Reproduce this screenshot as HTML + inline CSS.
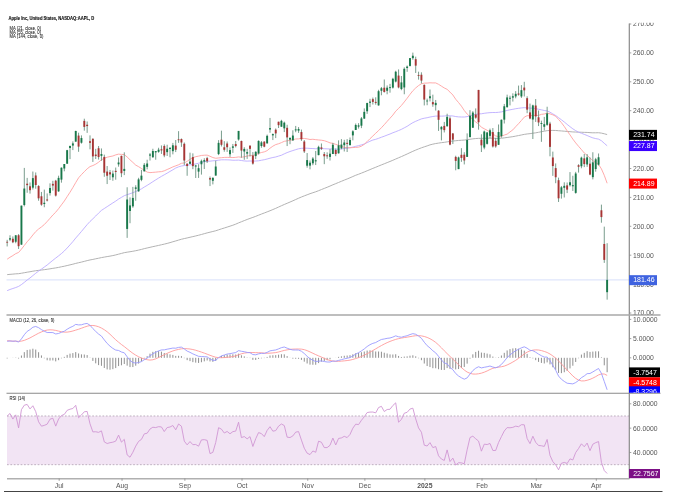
<!DOCTYPE html><html><head><meta charset="utf-8"><style>html,body{margin:0;padding:0;background:#fff}svg{display:block;will-change:transform}text{font-family:"Liberation Sans",sans-serif}</style></head><body>
<svg width="680" height="499" viewBox="0 0 680 499">
<rect width="680" height="499" fill="#fff"/>
<defs><clipPath id="pc"><rect x="6.5" y="20" width="622.5" height="295"/></clipPath><clipPath id="mc"><rect x="6.5" y="315.5" width="622.5" height="77.5"/></clipPath><clipPath id="rc"><rect x="6.5" y="393.5" width="622.5" height="85"/></clipPath></defs>
<rect x="7" y="415.98" width="622" height="48.70" fill="#f2e4f4"/>
<line x1="7" y1="415.98" x2="629" y2="415.98" stroke="#a99aab" stroke-width="0.75" stroke-dasharray="1.7,1.71"/>
<line x1="7" y1="464.68" x2="629" y2="464.68" stroke="#a99aab" stroke-width="0.75" stroke-dasharray="1.7,1.71"/>
<line x1="6.5" y1="279.88" x2="629" y2="279.88" stroke="#dfe6fb" stroke-width="1.2"/>
<polyline clip-path="url(#pc)" points="7.16,274.63 10.01,274.35 12.87,274.12 15.73,273.83 18.59,273.69 21.44,273.24 24.30,272.73 27.16,272.20 30.01,271.74 32.87,271.20 35.73,270.74 38.58,270.36 41.44,270.04 44.30,269.67 47.16,269.29 50.01,268.83 52.87,268.33 55.73,267.92 58.58,267.40 61.44,266.78 64.30,266.22 67.15,265.54 70.01,264.86 72.87,264.20 75.73,263.40 78.58,262.74 81.44,262.09 84.30,261.36 87.15,260.61 90.01,259.95 92.87,259.41 95.72,258.81 98.58,258.23 101.44,257.60 104.30,257.08 107.15,256.60 110.01,256.11 112.87,255.59 115.72,254.93 118.58,254.17 121.44,253.43 124.29,252.66 127.15,252.18 130.01,251.74 132.87,251.26 135.72,250.71 138.58,250.10 141.44,249.42 144.29,248.65 147.15,247.98 150.01,247.32 152.86,246.67 155.72,246.05 158.58,245.41 161.44,244.76 164.29,244.12 167.15,243.42 170.01,242.63 172.86,241.75 175.72,240.96 178.58,240.08 181.43,239.25 184.29,238.58 187.15,237.95 190.01,237.26 192.86,236.62 195.72,235.94 198.58,235.24 201.43,234.47 204.29,233.68 207.15,232.88 210.00,232.18 212.86,231.49 215.72,230.76 218.58,229.83 221.43,228.89 224.29,228.01 227.15,227.08 230.00,226.17 232.86,225.21 235.72,224.15 238.57,222.89 241.43,221.74 244.29,220.58 247.15,219.48 250.00,218.40 252.86,217.42 255.72,216.33 258.57,215.19 261.43,214.06 264.29,212.98 267.14,211.87 270.00,210.76 272.86,209.55 275.72,208.35 278.57,207.06 281.43,205.72 284.29,204.47 287.14,203.28 290.00,202.06 292.86,200.81 295.71,199.53 298.57,198.22 301.43,197.01 304.29,195.86 307.14,194.79 310.00,193.70 312.86,192.73 315.71,191.80 318.57,190.70 321.43,189.55 324.28,188.42 327.14,187.27 330.00,186.06 332.86,184.81 335.71,183.65 338.57,182.46 341.43,181.29 344.28,180.09 347.14,178.99 350.00,177.79 352.85,176.52 355.71,175.27 358.57,174.24 361.43,173.12 364.28,171.97 367.14,170.77 370.00,169.60 372.85,168.39 375.71,167.26 378.57,166.07 381.42,164.90 384.28,163.77 387.14,162.60 390.00,161.46 392.85,160.28 395.71,159.02 398.57,157.79 401.42,156.59 404.28,155.30 407.14,153.99 409.99,152.65 412.85,151.31 415.71,150.08 418.57,148.92 421.42,147.82 424.28,146.83 427.14,145.90 429.99,144.86 432.85,144.15 435.71,143.56 438.56,143.10 441.42,142.66 444.28,142.33 447.14,141.86 449.99,141.48 452.85,141.03 455.71,140.74 458.56,140.45 461.42,140.24 464.28,140.06 467.13,139.68 469.99,139.24 472.85,138.86 475.71,138.54 478.56,138.35 481.42,138.34 484.28,138.26 487.13,138.27 489.99,138.16 492.85,138.21 495.70,138.35 498.56,138.39 501.42,138.23 504.28,137.89 507.13,137.48 509.99,137.07 512.85,136.67 515.70,136.12 518.56,135.56 521.42,134.97 524.27,134.39 527.13,133.96 529.99,133.66 532.85,133.19 535.70,132.82 538.56,132.29 541.42,131.71 544.27,131.20 547.13,130.68 549.99,130.46 552.84,130.39 555.70,130.48 558.56,130.72 561.41,130.95 564.27,131.19 567.13,131.45 569.99,131.68 572.84,131.93 575.70,132.05 578.56,132.17 581.41,132.24 584.27,132.37 587.13,132.43 589.99,132.66 592.84,132.80 595.70,132.79 598.56,132.73 601.41,133.12 604.27,133.77 607.13,134.56" fill="none" stroke="#b3b3b3" stroke-width="1.0" stroke-linejoin="round"/>
<polyline clip-path="url(#pc)" points="7.16,290.65 10.01,289.48 12.87,288.51 15.73,287.56 18.59,286.41 21.44,284.58 24.30,282.36 27.16,280.02 30.01,277.96 32.87,275.59 35.73,273.26 38.58,271.12 41.44,269.13 44.30,267.06 47.16,264.99 50.01,262.64 52.87,260.30 55.73,258.05 58.58,255.86 61.44,253.56 64.30,250.99 67.15,248.00 70.01,244.86 72.87,241.62 75.73,238.05 78.58,234.80 81.44,231.46 84.30,228.02 87.15,224.61 90.01,221.48 92.87,218.82 95.72,215.98 98.58,213.11 101.44,210.38 104.30,208.53 107.15,206.65 110.01,204.78 112.87,202.92 115.72,201.12 118.58,199.07 121.44,197.38 124.29,195.68 127.15,194.65 130.01,193.74 132.87,192.69 135.72,191.52 138.58,190.26 141.44,188.86 144.29,187.06 147.15,185.39 150.01,183.56 152.86,181.68 155.72,179.87 158.58,178.07 161.44,176.37 164.29,174.78 167.15,173.15 170.01,171.43 172.86,169.80 175.72,168.04 178.58,166.85 181.43,166.02 184.29,165.57 187.15,165.13 190.01,164.83 192.86,164.49 195.72,163.90 198.58,163.23 201.43,162.47 204.29,161.75 207.15,161.26 210.00,161.15 212.86,160.82 215.72,160.62 218.58,160.16 221.43,159.82 224.29,159.81 227.15,159.83 230.00,159.95 232.86,160.24 235.72,160.23 238.57,160.10 241.43,160.53 244.29,160.95 247.15,161.12 250.00,160.98 252.86,161.12 255.72,161.03 258.57,160.79 261.43,160.24 264.29,159.71 267.14,159.01 270.00,158.19 272.86,157.50 275.72,156.98 278.57,156.10 281.43,155.23 284.29,153.83 287.14,152.59 290.00,151.50 292.86,150.55 295.71,149.65 298.57,148.80 301.43,148.34 304.29,148.12 307.14,148.21 310.00,148.43 312.86,148.55 315.71,148.75 318.57,148.70 321.43,148.57 324.28,148.71 327.14,148.86 330.00,149.01 332.86,148.92 335.71,149.17 338.57,149.23 341.43,148.94 344.28,148.51 347.14,148.19 350.00,147.71 352.85,147.08 355.71,146.30 358.57,145.65 361.43,144.89 364.28,143.99 367.14,142.61 370.00,141.23 372.85,140.05 375.71,139.32 378.57,138.34 381.42,137.22 384.28,136.22 387.14,135.09 390.00,134.00 392.85,132.78 395.71,131.71 398.57,130.56 401.42,129.35 404.28,127.83 407.14,126.34 409.99,124.42 412.85,122.67 415.71,121.30 418.57,120.09 421.42,118.89 424.28,118.23 427.14,117.73 429.99,117.03 432.85,116.50 435.71,116.10 438.56,116.08 441.42,116.16 444.28,116.02 447.14,115.64 449.99,115.80 452.85,115.98 455.71,116.56 458.56,116.89 461.42,117.01 464.28,117.02 467.13,116.61 469.99,115.83 472.85,114.95 475.71,114.42 478.56,113.95 481.42,113.75 484.28,113.30 487.13,112.91 489.99,112.65 492.85,112.51 495.70,112.53 498.56,112.30 501.42,111.89 504.28,111.21 507.13,110.43 509.99,109.82 512.85,109.31 515.70,108.73 518.56,108.30 521.42,107.91 524.27,107.68 527.13,107.82 529.99,108.12 532.85,108.17 535.70,108.63 538.56,109.25 541.42,109.82 544.27,110.48 547.13,110.95 549.99,112.19 552.84,113.91 555.70,115.54 558.56,117.65 561.41,119.80 564.27,121.97 567.13,124.36 569.99,126.66 572.84,128.84 575.70,130.63 578.56,132.19 581.41,133.24 584.27,134.39 587.13,135.50 589.99,136.78 592.84,137.86 595.70,138.58 598.56,139.13 601.41,140.71 604.27,143.31 607.13,145.77" fill="none" stroke="#b8a8ff" stroke-width="0.85" stroke-linejoin="round"/>
<polyline clip-path="url(#pc)" points="7.16,259.20 10.01,257.25 12.87,255.59 15.73,253.64 18.59,252.46 21.44,249.14 24.30,245.46 27.16,241.77 30.01,238.63 32.87,234.94 35.73,231.58 38.58,229.02 41.44,226.93 44.30,224.56 47.16,221.51 50.01,218.30 52.87,214.99 55.73,212.19 58.58,208.68 61.44,204.83 64.30,201.04 67.15,196.64 70.01,192.24 72.87,187.54 75.73,182.57 78.58,177.83 81.44,174.61 84.30,171.67 87.15,168.84 90.01,166.59 92.87,165.55 95.72,164.17 98.58,162.21 101.44,159.80 104.30,158.37 107.15,157.21 110.01,156.56 112.87,155.99 115.72,154.86 118.58,154.13 121.44,154.39 124.29,154.63 127.15,156.97 130.01,159.81 132.87,162.40 135.72,165.11 138.58,166.67 141.44,168.46 144.29,170.27 147.15,172.07 150.01,172.64 152.86,172.38 155.72,172.17 158.58,171.82 161.44,171.63 164.29,170.80 167.15,169.51 170.01,168.25 172.86,166.90 175.72,165.84 178.58,164.78 181.43,163.31 184.29,162.91 187.15,161.32 190.01,159.24 192.86,157.72 195.72,156.68 198.58,156.14 201.43,155.44 204.29,155.23 207.15,155.12 210.00,156.28 212.86,157.55 215.72,158.27 218.58,157.94 221.43,157.70 224.29,157.43 227.15,157.36 230.00,157.47 232.86,157.54 235.72,157.36 238.57,156.92 241.43,157.30 244.29,156.75 247.15,156.09 250.00,155.48 252.86,155.36 255.72,154.69 258.57,153.39 261.43,152.51 264.29,151.86 267.14,150.65 270.00,148.23 272.86,146.17 275.72,144.59 278.57,143.75 281.43,142.61 284.29,141.32 287.14,140.85 290.00,140.27 292.86,139.74 295.71,138.97 298.57,138.87 301.43,138.34 304.29,138.46 307.14,138.84 310.00,139.50 312.86,139.25 315.71,139.67 318.57,139.96 321.43,140.24 324.28,140.70 327.14,141.67 330.00,142.88 332.86,143.37 335.71,144.35 338.57,145.31 341.43,146.44 344.28,147.38 347.14,147.69 350.00,147.79 352.85,147.59 355.71,147.36 358.57,147.18 361.43,146.19 364.28,144.31 367.14,141.59 370.00,138.70 372.85,136.00 375.71,133.24 378.57,130.58 381.42,127.72 384.28,124.66 387.14,121.39 390.00,118.22 392.85,115.08 395.71,111.16 398.57,108.41 401.42,105.45 404.28,101.94 407.14,98.26 409.99,94.36 412.85,90.76 415.71,87.94 418.57,85.56 421.42,83.76 424.28,83.17 427.14,83.07 429.99,82.80 432.85,82.91 435.71,82.93 438.56,84.30 441.42,86.14 444.28,87.95 447.14,89.34 449.99,92.08 452.85,94.97 455.71,99.22 458.56,102.55 461.42,106.15 464.28,110.51 467.13,114.01 469.99,116.75 472.85,119.46 475.71,121.94 478.56,124.16 481.42,127.25 484.28,128.77 487.13,130.27 489.99,131.89 492.85,133.90 495.70,135.97 498.56,136.55 501.42,136.21 504.28,135.07 507.13,134.15 509.99,131.92 512.85,129.87 515.70,126.68 518.56,123.69 521.42,120.46 524.27,117.12 527.13,115.68 529.99,115.81 532.85,115.47 535.70,115.41 538.56,115.42 541.42,114.35 544.27,114.01 547.13,113.10 549.99,113.89 552.84,114.82 555.70,116.29 558.56,119.45 561.41,122.66 564.27,126.45 567.13,130.84 569.99,134.87 572.84,139.10 575.70,142.89 578.56,146.31 581.41,149.52 584.27,153.03 587.13,155.31 589.99,157.98 592.84,160.69 595.70,162.73 598.56,164.39 601.41,168.87 604.27,175.33 607.13,183.26" fill="none" stroke="#ffa2a2" stroke-width="0.9" stroke-linejoin="round"/>
<line x1="7.16" y1="239.83" x2="7.16" y2="246.44" stroke="#6a9280" stroke-width="0.9"/>
<rect x="6.21" y="241.79" width="1.9" height="0.84" fill="#a83434"/>
<line x1="10.01" y1="235.26" x2="10.01" y2="241.13" stroke="#6a9280" stroke-width="0.9"/>
<rect x="9.06" y="238.24" width="1.9" height="1.36" fill="#18784a"/>
<line x1="12.87" y1="236.42" x2="12.87" y2="243.15" stroke="#6a9280" stroke-width="0.9"/>
<rect x="11.92" y="238.76" width="1.9" height="3.50" fill="#a83434"/>
<line x1="15.73" y1="235.14" x2="15.73" y2="243.24" stroke="#6a9280" stroke-width="0.9"/>
<rect x="14.78" y="235.29" width="1.9" height="6.47" fill="#18784a"/>
<line x1="18.59" y1="234.10" x2="18.59" y2="248.99" stroke="#6a9280" stroke-width="0.9"/>
<rect x="17.64" y="235.26" width="1.9" height="10.92" fill="#a83434"/>
<line x1="21.44" y1="205.61" x2="21.44" y2="244.71" stroke="#6a9280" stroke-width="0.9"/>
<rect x="20.49" y="205.64" width="1.9" height="39.02" fill="#18784a"/>
<line x1="24.30" y1="167.92" x2="24.30" y2="206.36" stroke="#6a9280" stroke-width="0.9"/>
<rect x="23.35" y="188.53" width="1.9" height="16.47" fill="#18784a"/>
<line x1="27.16" y1="177.89" x2="27.16" y2="192.78" stroke="#6a9280" stroke-width="0.9"/>
<rect x="26.21" y="183.70" width="1.9" height="1.44" fill="#a83434"/>
<line x1="30.01" y1="182.46" x2="30.01" y2="193.64" stroke="#6a9280" stroke-width="0.9"/>
<rect x="29.06" y="186.27" width="1.9" height="3.93" fill="#a83434"/>
<line x1="32.87" y1="171.53" x2="32.87" y2="189.54" stroke="#6a9280" stroke-width="0.9"/>
<rect x="31.92" y="178.12" width="1.9" height="9.54" fill="#18784a"/>
<line x1="35.73" y1="172.46" x2="35.73" y2="188.73" stroke="#6a9280" stroke-width="0.9"/>
<rect x="34.78" y="175.46" width="1.9" height="9.54" fill="#a83434"/>
<line x1="38.58" y1="185.15" x2="38.58" y2="200.72" stroke="#6a9280" stroke-width="0.9"/>
<rect x="37.63" y="186.04" width="1.9" height="12.28" fill="#a83434"/>
<line x1="41.44" y1="191.94" x2="41.44" y2="205.75" stroke="#6a9280" stroke-width="0.9"/>
<rect x="40.49" y="196.27" width="1.9" height="8.38" fill="#a83434"/>
<line x1="44.30" y1="189.60" x2="44.30" y2="207.25" stroke="#6a9280" stroke-width="0.9"/>
<rect x="43.35" y="202.78" width="1.9" height="1.21" fill="#18784a"/>
<line x1="47.16" y1="193.41" x2="47.16" y2="201.42" stroke="#6a9280" stroke-width="0.9"/>
<rect x="46.20" y="199.46" width="1.9" height="1.03" fill="#a83434"/>
<line x1="50.01" y1="183.35" x2="50.01" y2="195.55" stroke="#6a9280" stroke-width="0.9"/>
<rect x="49.06" y="188.01" width="1.9" height="5.06" fill="#18784a"/>
<line x1="52.87" y1="180.81" x2="52.87" y2="190.61" stroke="#6a9280" stroke-width="0.9"/>
<rect x="51.92" y="183.85" width="1.9" height="1.71" fill="#a83434"/>
<line x1="55.73" y1="179.86" x2="55.73" y2="196.53" stroke="#6a9280" stroke-width="0.9"/>
<rect x="54.78" y="180.72" width="1.9" height="14.88" fill="#a83434"/>
<line x1="58.58" y1="175.70" x2="58.58" y2="191.85" stroke="#6a9280" stroke-width="0.9"/>
<rect x="57.63" y="177.89" width="1.9" height="13.47" fill="#18784a"/>
<line x1="61.44" y1="167.40" x2="61.44" y2="182.66" stroke="#6a9280" stroke-width="0.9"/>
<rect x="60.49" y="167.72" width="1.9" height="11.91" fill="#18784a"/>
<line x1="64.30" y1="164.02" x2="64.30" y2="171.30" stroke="#6a9280" stroke-width="0.9"/>
<rect x="63.35" y="164.02" width="1.9" height="4.48" fill="#18784a"/>
<line x1="67.15" y1="149.86" x2="67.15" y2="163.73" stroke="#6a9280" stroke-width="0.9"/>
<rect x="66.20" y="150.18" width="1.9" height="13.55" fill="#18784a"/>
<line x1="70.01" y1="145.81" x2="70.01" y2="159.11" stroke="#6a9280" stroke-width="0.9"/>
<rect x="69.06" y="145.90" width="1.9" height="2.11" fill="#18784a"/>
<line x1="72.87" y1="141.33" x2="72.87" y2="150.09" stroke="#6a9280" stroke-width="0.9"/>
<rect x="71.92" y="143.41" width="1.9" height="2.17" fill="#18784a"/>
<line x1="75.73" y1="130.70" x2="75.73" y2="141.77" stroke="#6a9280" stroke-width="0.9"/>
<rect x="74.78" y="130.99" width="1.9" height="10.64" fill="#18784a"/>
<line x1="78.58" y1="132.69" x2="78.58" y2="151.82" stroke="#6a9280" stroke-width="0.9"/>
<rect x="77.63" y="135.58" width="1.9" height="11.04" fill="#a83434"/>
<line x1="81.44" y1="135.38" x2="81.44" y2="143.65" stroke="#6a9280" stroke-width="0.9"/>
<rect x="80.49" y="138.04" width="1.9" height="4.68" fill="#18784a"/>
<line x1="84.30" y1="118.71" x2="84.30" y2="130.67" stroke="#6a9280" stroke-width="0.9"/>
<rect x="83.35" y="120.87" width="1.9" height="6.01" fill="#a83434"/>
<line x1="87.15" y1="121.48" x2="87.15" y2="132.87" stroke="#6a9280" stroke-width="0.9"/>
<rect x="86.20" y="124.75" width="1.9" height="1.32" fill="#a83434"/>
<line x1="90.01" y1="135.38" x2="90.01" y2="149.31" stroke="#6a9280" stroke-width="0.9"/>
<rect x="89.06" y="141.19" width="1.9" height="1.65" fill="#a83434"/>
<line x1="92.87" y1="138.33" x2="92.87" y2="161.94" stroke="#6a9280" stroke-width="0.9"/>
<rect x="91.92" y="138.79" width="1.9" height="17.63" fill="#a83434"/>
<line x1="95.72" y1="148.85" x2="95.72" y2="159.02" stroke="#6a9280" stroke-width="0.9"/>
<rect x="94.77" y="154.57" width="1.9" height="1.47" fill="#a83434"/>
<line x1="98.58" y1="146.02" x2="98.58" y2="159.57" stroke="#6a9280" stroke-width="0.9"/>
<rect x="97.63" y="148.24" width="1.9" height="8.81" fill="#a83434"/>
<line x1="101.44" y1="148.44" x2="101.44" y2="160.75" stroke="#6a9280" stroke-width="0.9"/>
<rect x="100.49" y="154.02" width="1.9" height="1.85" fill="#18784a"/>
<line x1="104.30" y1="154.63" x2="104.30" y2="176.79" stroke="#6a9280" stroke-width="0.9"/>
<rect x="103.34" y="156.94" width="1.9" height="15.78" fill="#a83434"/>
<line x1="107.15" y1="166.04" x2="107.15" y2="184.05" stroke="#6a9280" stroke-width="0.9"/>
<rect x="106.20" y="171.59" width="1.9" height="4.16" fill="#a83434"/>
<line x1="110.01" y1="169.97" x2="110.01" y2="180.03" stroke="#6a9280" stroke-width="0.9"/>
<rect x="109.06" y="172.26" width="1.9" height="2.14" fill="#a83434"/>
<line x1="112.87" y1="170.52" x2="112.87" y2="180.78" stroke="#6a9280" stroke-width="0.9"/>
<rect x="111.92" y="173.59" width="1.9" height="3.70" fill="#18784a"/>
<line x1="115.72" y1="167.55" x2="115.72" y2="179.71" stroke="#6a9280" stroke-width="0.9"/>
<rect x="114.77" y="170.84" width="1.9" height="1.13" fill="#a83434"/>
<line x1="118.58" y1="157.46" x2="118.58" y2="166.68" stroke="#6a9280" stroke-width="0.9"/>
<rect x="117.63" y="162.49" width="1.9" height="1.85" fill="#18784a"/>
<line x1="121.44" y1="155.55" x2="121.44" y2="177.11" stroke="#6a9280" stroke-width="0.9"/>
<rect x="120.49" y="155.87" width="1.9" height="17.37" fill="#a83434"/>
<line x1="124.29" y1="152.32" x2="124.29" y2="175.12" stroke="#6a9280" stroke-width="0.9"/>
<rect x="123.34" y="168.90" width="1.9" height="2.05" fill="#18784a"/>
<line x1="127.15" y1="187.28" x2="127.15" y2="237.86" stroke="#6a9280" stroke-width="0.9"/>
<rect x="126.20" y="199.51" width="1.9" height="29.42" fill="#18784a"/>
<line x1="130.01" y1="197.43" x2="130.01" y2="223.21" stroke="#6a9280" stroke-width="0.9"/>
<rect x="129.06" y="205.41" width="1.9" height="5.58" fill="#18784a"/>
<line x1="132.87" y1="186.88" x2="132.87" y2="207.83" stroke="#6a9280" stroke-width="0.9"/>
<rect x="131.92" y="197.92" width="1.9" height="8.44" fill="#18784a"/>
<line x1="135.72" y1="185.26" x2="135.72" y2="200.78" stroke="#6a9280" stroke-width="0.9"/>
<rect x="134.77" y="187.43" width="1.9" height="1.38" fill="#18784a"/>
<line x1="138.58" y1="177.81" x2="138.58" y2="191.71" stroke="#6a9280" stroke-width="0.9"/>
<rect x="137.63" y="179.37" width="1.9" height="11.96" fill="#18784a"/>
<line x1="141.44" y1="169.92" x2="141.44" y2="181.22" stroke="#6a9280" stroke-width="0.9"/>
<rect x="140.49" y="175.64" width="1.9" height="4.22" fill="#18784a"/>
<line x1="144.29" y1="163.04" x2="144.29" y2="171.36" stroke="#6a9280" stroke-width="0.9"/>
<rect x="143.34" y="164.83" width="1.9" height="6.53" fill="#18784a"/>
<line x1="147.15" y1="159.74" x2="147.15" y2="169.37" stroke="#6a9280" stroke-width="0.9"/>
<rect x="146.20" y="163.53" width="1.9" height="3.32" fill="#18784a"/>
<line x1="150.01" y1="153.04" x2="150.01" y2="160.52" stroke="#6a9280" stroke-width="0.9"/>
<rect x="149.06" y="154.46" width="1.9" height="1.15" fill="#18784a"/>
<line x1="152.86" y1="148.76" x2="152.86" y2="157.95" stroke="#6a9280" stroke-width="0.9"/>
<rect x="151.91" y="151.02" width="1.9" height="6.16" fill="#18784a"/>
<line x1="155.72" y1="151.19" x2="155.72" y2="159.71" stroke="#6a9280" stroke-width="0.9"/>
<rect x="154.77" y="151.08" width="1.9" height="1.29" fill="#18784a"/>
<line x1="158.58" y1="147.78" x2="158.58" y2="152.75" stroke="#6a9280" stroke-width="0.9"/>
<rect x="157.63" y="149.69" width="1.9" height="2.14" fill="#18784a"/>
<line x1="161.44" y1="145.44" x2="161.44" y2="153.91" stroke="#6a9280" stroke-width="0.9"/>
<rect x="160.49" y="149.26" width="1.9" height="1.15" fill="#a83434"/>
<line x1="164.29" y1="144.40" x2="164.29" y2="157.23" stroke="#6a9280" stroke-width="0.9"/>
<rect x="163.34" y="145.99" width="1.9" height="9.42" fill="#a83434"/>
<line x1="167.15" y1="144.74" x2="167.15" y2="155.99" stroke="#6a9280" stroke-width="0.9"/>
<rect x="166.20" y="148.73" width="1.9" height="3.41" fill="#18784a"/>
<line x1="170.01" y1="147.46" x2="170.01" y2="157.26" stroke="#6a9280" stroke-width="0.9"/>
<rect x="169.06" y="147.75" width="1.9" height="1.21" fill="#18784a"/>
<line x1="172.86" y1="142.92" x2="172.86" y2="154.37" stroke="#6a9280" stroke-width="0.9"/>
<rect x="171.91" y="145.29" width="1.9" height="5.87" fill="#18784a"/>
<line x1="175.72" y1="140.00" x2="175.72" y2="152.08" stroke="#6a9280" stroke-width="0.9"/>
<rect x="174.77" y="145.61" width="1.9" height="4.13" fill="#a83434"/>
<line x1="178.58" y1="131.16" x2="178.58" y2="142.84" stroke="#6a9280" stroke-width="0.9"/>
<rect x="177.63" y="139.31" width="1.9" height="0.90" fill="#a83434"/>
<line x1="181.43" y1="138.44" x2="181.43" y2="146.88" stroke="#6a9280" stroke-width="0.9"/>
<rect x="180.48" y="139.05" width="1.9" height="3.44" fill="#a83434"/>
<line x1="184.29" y1="142.49" x2="184.29" y2="165.12" stroke="#6a9280" stroke-width="0.9"/>
<rect x="183.34" y="143.79" width="1.9" height="16.70" fill="#a83434"/>
<line x1="187.15" y1="163.36" x2="187.15" y2="175.78" stroke="#6a9280" stroke-width="0.9"/>
<rect x="186.20" y="163.70" width="1.9" height="2.34" fill="#a83434"/>
<line x1="190.01" y1="152.66" x2="190.01" y2="164.11" stroke="#6a9280" stroke-width="0.9"/>
<rect x="189.06" y="161.62" width="1.9" height="2.17" fill="#18784a"/>
<line x1="192.86" y1="153.36" x2="192.86" y2="169.16" stroke="#6a9280" stroke-width="0.9"/>
<rect x="191.91" y="157.08" width="1.9" height="9.05" fill="#a83434"/>
<line x1="195.72" y1="164.83" x2="195.72" y2="178.01" stroke="#6a9280" stroke-width="0.9"/>
<rect x="194.77" y="165.47" width="1.9" height="1.06" fill="#18784a"/>
<line x1="198.58" y1="164.22" x2="198.58" y2="177.95" stroke="#6a9280" stroke-width="0.9"/>
<rect x="197.63" y="168.18" width="1.9" height="3.44" fill="#18784a"/>
<line x1="201.43" y1="159.57" x2="201.43" y2="174.60" stroke="#6a9280" stroke-width="0.9"/>
<rect x="200.48" y="160.81" width="1.9" height="3.47" fill="#18784a"/>
<line x1="204.29" y1="158.24" x2="204.29" y2="169.02" stroke="#6a9280" stroke-width="0.9"/>
<rect x="203.34" y="160.09" width="1.9" height="1.58" fill="#18784a"/>
<line x1="207.15" y1="156.82" x2="207.15" y2="162.98" stroke="#6a9280" stroke-width="0.9"/>
<rect x="206.20" y="158.15" width="1.9" height="3.12" fill="#a83434"/>
<line x1="210.00" y1="176.53" x2="210.00" y2="186.07" stroke="#6a9280" stroke-width="0.9"/>
<rect x="209.05" y="178.10" width="1.9" height="1.44" fill="#a83434"/>
<line x1="212.86" y1="177.46" x2="212.86" y2="184.40" stroke="#6a9280" stroke-width="0.9"/>
<rect x="211.91" y="177.78" width="1.9" height="3.01" fill="#18784a"/>
<line x1="215.72" y1="160.67" x2="215.72" y2="175.61" stroke="#6a9280" stroke-width="0.9"/>
<rect x="214.77" y="166.51" width="1.9" height="9.07" fill="#18784a"/>
<line x1="218.58" y1="140.12" x2="218.58" y2="155.12" stroke="#6a9280" stroke-width="0.9"/>
<rect x="217.63" y="142.87" width="1.9" height="11.21" fill="#18784a"/>
<line x1="221.43" y1="130.67" x2="221.43" y2="146.48" stroke="#6a9280" stroke-width="0.9"/>
<rect x="220.48" y="139.69" width="1.9" height="5.12" fill="#a83434"/>
<line x1="224.29" y1="141.19" x2="224.29" y2="151.71" stroke="#6a9280" stroke-width="0.9"/>
<rect x="223.34" y="147.29" width="1.9" height="2.51" fill="#a83434"/>
<line x1="227.15" y1="141.48" x2="227.15" y2="151.94" stroke="#6a9280" stroke-width="0.9"/>
<rect x="226.20" y="143.50" width="1.9" height="3.70" fill="#a83434"/>
<line x1="230.00" y1="147.43" x2="230.00" y2="156.88" stroke="#6a9280" stroke-width="0.9"/>
<rect x="229.05" y="150.09" width="1.9" height="4.16" fill="#18784a"/>
<line x1="232.86" y1="143.94" x2="232.86" y2="152.87" stroke="#6a9280" stroke-width="0.9"/>
<rect x="231.91" y="146.37" width="1.9" height="1.44" fill="#18784a"/>
<line x1="235.72" y1="140.99" x2="235.72" y2="147.40" stroke="#6a9280" stroke-width="0.9"/>
<rect x="234.77" y="144.05" width="1.9" height="1.94" fill="#a83434"/>
<line x1="238.57" y1="130.93" x2="238.57" y2="140.61" stroke="#6a9280" stroke-width="0.9"/>
<rect x="237.62" y="130.93" width="1.9" height="8.55" fill="#18784a"/>
<line x1="241.43" y1="140.61" x2="241.43" y2="157.69" stroke="#6a9280" stroke-width="0.9"/>
<rect x="240.48" y="140.99" width="1.9" height="9.57" fill="#a83434"/>
<line x1="244.29" y1="147.20" x2="244.29" y2="159.77" stroke="#6a9280" stroke-width="0.9"/>
<rect x="243.34" y="148.91" width="1.9" height="2.57" fill="#18784a"/>
<line x1="247.15" y1="148.82" x2="247.15" y2="158.91" stroke="#6a9280" stroke-width="0.9"/>
<rect x="246.20" y="152.11" width="1.9" height="1.53" fill="#18784a"/>
<line x1="250.00" y1="145.38" x2="250.00" y2="156.56" stroke="#6a9280" stroke-width="0.9"/>
<rect x="249.05" y="145.67" width="1.9" height="3.18" fill="#a83434"/>
<line x1="252.86" y1="152.06" x2="252.86" y2="164.66" stroke="#6a9280" stroke-width="0.9"/>
<rect x="251.91" y="155.50" width="1.9" height="8.12" fill="#a83434"/>
<line x1="255.72" y1="151.22" x2="255.72" y2="159.11" stroke="#6a9280" stroke-width="0.9"/>
<rect x="254.77" y="151.82" width="1.9" height="4.25" fill="#18784a"/>
<line x1="258.57" y1="140.32" x2="258.57" y2="154.54" stroke="#6a9280" stroke-width="0.9"/>
<rect x="257.62" y="140.93" width="1.9" height="12.46" fill="#18784a"/>
<line x1="261.43" y1="141.05" x2="261.43" y2="147.78" stroke="#6a9280" stroke-width="0.9"/>
<rect x="260.48" y="142.37" width="1.9" height="3.64" fill="#18784a"/>
<line x1="264.29" y1="141.31" x2="264.29" y2="147.29" stroke="#6a9280" stroke-width="0.9"/>
<rect x="263.34" y="141.62" width="1.9" height="5.06" fill="#a83434"/>
<line x1="267.14" y1="134.60" x2="267.14" y2="143.65" stroke="#6a9280" stroke-width="0.9"/>
<rect x="266.19" y="135.84" width="1.9" height="7.51" fill="#18784a"/>
<line x1="270.00" y1="117.95" x2="270.00" y2="132.75" stroke="#6a9280" stroke-width="0.9"/>
<rect x="269.05" y="128.07" width="1.9" height="1.49" fill="#18784a"/>
<line x1="272.86" y1="133.47" x2="272.86" y2="140.06" stroke="#6a9280" stroke-width="0.9"/>
<rect x="271.91" y="134.06" width="1.9" height="1.32" fill="#18784a"/>
<line x1="275.72" y1="128.47" x2="275.72" y2="138.10" stroke="#6a9280" stroke-width="0.9"/>
<rect x="274.77" y="129.69" width="1.9" height="3.70" fill="#a83434"/>
<line x1="278.57" y1="121.74" x2="278.57" y2="128.01" stroke="#6a9280" stroke-width="0.9"/>
<rect x="277.62" y="121.74" width="1.9" height="3.41" fill="#a83434"/>
<line x1="281.43" y1="119.80" x2="281.43" y2="126.74" stroke="#6a9280" stroke-width="0.9"/>
<rect x="280.48" y="120.87" width="1.9" height="5.87" fill="#18784a"/>
<line x1="284.29" y1="121.62" x2="284.29" y2="132.09" stroke="#6a9280" stroke-width="0.9"/>
<rect x="283.34" y="122.66" width="1.9" height="5.69" fill="#18784a"/>
<line x1="287.14" y1="124.75" x2="287.14" y2="146.07" stroke="#6a9280" stroke-width="0.9"/>
<rect x="286.19" y="127.81" width="1.9" height="9.59" fill="#a83434"/>
<line x1="290.00" y1="137.23" x2="290.00" y2="144.20" stroke="#6a9280" stroke-width="0.9"/>
<rect x="289.05" y="137.95" width="1.9" height="1.71" fill="#18784a"/>
<line x1="292.86" y1="130.29" x2="292.86" y2="140.84" stroke="#6a9280" stroke-width="0.9"/>
<rect x="291.91" y="135.53" width="1.9" height="4.83" fill="#18784a"/>
<line x1="295.71" y1="125.93" x2="295.71" y2="132.23" stroke="#6a9280" stroke-width="0.9"/>
<rect x="294.76" y="129.37" width="1.9" height="1.03" fill="#18784a"/>
<line x1="298.57" y1="127.09" x2="298.57" y2="132.90" stroke="#6a9280" stroke-width="0.9"/>
<rect x="297.62" y="128.99" width="1.9" height="1.65" fill="#18784a"/>
<line x1="301.43" y1="129.57" x2="301.43" y2="140.90" stroke="#6a9280" stroke-width="0.9"/>
<rect x="300.48" y="132.06" width="1.9" height="7.25" fill="#a83434"/>
<line x1="304.29" y1="140.09" x2="304.29" y2="152.98" stroke="#6a9280" stroke-width="0.9"/>
<rect x="303.34" y="141.51" width="1.9" height="9.91" fill="#a83434"/>
<line x1="307.14" y1="153.04" x2="307.14" y2="167.72" stroke="#6a9280" stroke-width="0.9"/>
<rect x="306.19" y="160.09" width="1.9" height="5.61" fill="#18784a"/>
<line x1="310.00" y1="160.44" x2="310.00" y2="169.34" stroke="#6a9280" stroke-width="0.9"/>
<rect x="309.05" y="162.69" width="1.9" height="2.95" fill="#18784a"/>
<line x1="312.86" y1="157.08" x2="312.86" y2="165.21" stroke="#6a9280" stroke-width="0.9"/>
<rect x="311.91" y="158.53" width="1.9" height="4.77" fill="#18784a"/>
<line x1="315.71" y1="150.96" x2="315.71" y2="165.06" stroke="#6a9280" stroke-width="0.9"/>
<rect x="314.76" y="160.24" width="1.9" height="1.12" fill="#18784a"/>
<line x1="318.57" y1="145.73" x2="318.57" y2="155.29" stroke="#6a9280" stroke-width="0.9"/>
<rect x="317.62" y="146.88" width="1.9" height="8.24" fill="#18784a"/>
<line x1="321.43" y1="143.47" x2="321.43" y2="149.98" stroke="#6a9280" stroke-width="0.9"/>
<rect x="320.48" y="147.38" width="1.9" height="1.41" fill="#a83434"/>
<line x1="324.28" y1="152.03" x2="324.28" y2="164.16" stroke="#6a9280" stroke-width="0.9"/>
<rect x="323.33" y="154.05" width="1.9" height="2.23" fill="#a83434"/>
<line x1="327.14" y1="152.34" x2="327.14" y2="158.79" stroke="#6a9280" stroke-width="0.9"/>
<rect x="326.19" y="155.35" width="1.9" height="0.92" fill="#a83434"/>
<line x1="330.00" y1="149.28" x2="330.00" y2="160.52" stroke="#6a9280" stroke-width="0.9"/>
<rect x="329.05" y="153.70" width="1.9" height="3.21" fill="#18784a"/>
<line x1="332.86" y1="142.87" x2="332.86" y2="154.05" stroke="#6a9280" stroke-width="0.9"/>
<rect x="331.91" y="144.74" width="1.9" height="9.25" fill="#18784a"/>
<line x1="335.71" y1="148.50" x2="335.71" y2="156.16" stroke="#6a9280" stroke-width="0.9"/>
<rect x="334.76" y="150.00" width="1.9" height="4.05" fill="#a83434"/>
<line x1="338.57" y1="140.35" x2="338.57" y2="153.56" stroke="#6a9280" stroke-width="0.9"/>
<rect x="337.62" y="145.32" width="1.9" height="8.01" fill="#18784a"/>
<line x1="341.43" y1="139.14" x2="341.43" y2="149.25" stroke="#6a9280" stroke-width="0.9"/>
<rect x="340.48" y="144.57" width="1.9" height="3.76" fill="#18784a"/>
<line x1="344.28" y1="139.80" x2="344.28" y2="151.48" stroke="#6a9280" stroke-width="0.9"/>
<rect x="343.33" y="142.49" width="1.9" height="2.72" fill="#18784a"/>
<line x1="347.14" y1="139.14" x2="347.14" y2="152.00" stroke="#6a9280" stroke-width="0.9"/>
<rect x="346.19" y="142.84" width="1.9" height="1.04" fill="#a83434"/>
<line x1="350.00" y1="137.52" x2="350.00" y2="145.21" stroke="#6a9280" stroke-width="0.9"/>
<rect x="349.05" y="139.98" width="1.9" height="5.23" fill="#18784a"/>
<line x1="352.85" y1="130.21" x2="352.85" y2="140.35" stroke="#6a9280" stroke-width="0.9"/>
<rect x="351.90" y="131.31" width="1.9" height="4.07" fill="#18784a"/>
<line x1="355.71" y1="123.50" x2="355.71" y2="129.98" stroke="#6a9280" stroke-width="0.9"/>
<rect x="354.76" y="124.98" width="1.9" height="5.00" fill="#18784a"/>
<line x1="358.57" y1="123.16" x2="358.57" y2="128.59" stroke="#6a9280" stroke-width="0.9"/>
<rect x="357.62" y="125.35" width="1.9" height="1.33" fill="#18784a"/>
<line x1="361.43" y1="117.03" x2="361.43" y2="128.13" stroke="#6a9280" stroke-width="0.9"/>
<rect x="360.48" y="118.42" width="1.9" height="7.28" fill="#18784a"/>
<line x1="364.28" y1="108.42" x2="364.28" y2="118.91" stroke="#6a9280" stroke-width="0.9"/>
<rect x="363.33" y="111.88" width="1.9" height="6.70" fill="#18784a"/>
<line x1="367.14" y1="102.72" x2="367.14" y2="113.88" stroke="#6a9280" stroke-width="0.9"/>
<rect x="366.19" y="103.04" width="1.9" height="8.21" fill="#18784a"/>
<line x1="370.00" y1="98.82" x2="370.00" y2="107.09" stroke="#6a9280" stroke-width="0.9"/>
<rect x="369.05" y="101.60" width="1.9" height="1.20" fill="#18784a"/>
<line x1="372.85" y1="97.58" x2="372.85" y2="104.54" stroke="#6a9280" stroke-width="0.9"/>
<rect x="371.90" y="99.17" width="1.9" height="2.75" fill="#a83434"/>
<line x1="375.71" y1="97.32" x2="375.71" y2="104.69" stroke="#6a9280" stroke-width="0.9"/>
<rect x="374.76" y="101.89" width="1.9" height="1.00" fill="#a83434"/>
<line x1="378.57" y1="89.78" x2="378.57" y2="105.64" stroke="#6a9280" stroke-width="0.9"/>
<rect x="377.62" y="91.19" width="1.9" height="14.22" fill="#18784a"/>
<line x1="381.42" y1="86.97" x2="381.42" y2="95.27" stroke="#6a9280" stroke-width="0.9"/>
<rect x="380.47" y="88.24" width="1.9" height="2.54" fill="#18784a"/>
<line x1="384.28" y1="79.49" x2="384.28" y2="92.61" stroke="#6a9280" stroke-width="0.9"/>
<rect x="383.33" y="87.70" width="1.9" height="4.25" fill="#a83434"/>
<line x1="387.14" y1="85.44" x2="387.14" y2="94.28" stroke="#6a9280" stroke-width="0.9"/>
<rect x="386.19" y="87.70" width="1.9" height="3.09" fill="#18784a"/>
<line x1="390.00" y1="83.85" x2="390.00" y2="92.67" stroke="#6a9280" stroke-width="0.9"/>
<rect x="389.05" y="87.20" width="1.9" height="0.90" fill="#18784a"/>
<line x1="392.85" y1="77.81" x2="392.85" y2="88.59" stroke="#6a9280" stroke-width="0.9"/>
<rect x="391.90" y="78.79" width="1.9" height="8.81" fill="#18784a"/>
<line x1="395.71" y1="70.73" x2="395.71" y2="82.44" stroke="#6a9280" stroke-width="0.9"/>
<rect x="394.76" y="71.74" width="1.9" height="9.83" fill="#18784a"/>
<line x1="398.57" y1="69.43" x2="398.57" y2="88.33" stroke="#6a9280" stroke-width="0.9"/>
<rect x="397.62" y="75.56" width="1.9" height="11.88" fill="#a83434"/>
<line x1="401.42" y1="76.02" x2="401.42" y2="90.21" stroke="#6a9280" stroke-width="0.9"/>
<rect x="400.47" y="82.41" width="1.9" height="6.62" fill="#18784a"/>
<line x1="404.28" y1="67.35" x2="404.28" y2="94.26" stroke="#6a9280" stroke-width="0.9"/>
<rect x="403.33" y="68.82" width="1.9" height="18.64" fill="#18784a"/>
<line x1="407.14" y1="65.47" x2="407.14" y2="71.83" stroke="#6a9280" stroke-width="0.9"/>
<rect x="406.19" y="66.57" width="1.9" height="1.45" fill="#18784a"/>
<line x1="409.99" y1="58.07" x2="409.99" y2="66.51" stroke="#6a9280" stroke-width="0.9"/>
<rect x="409.04" y="58.10" width="1.9" height="7.83" fill="#18784a"/>
<line x1="412.85" y1="52.61" x2="412.85" y2="59.75" stroke="#6a9280" stroke-width="0.9"/>
<rect x="411.90" y="55.73" width="1.9" height="2.40" fill="#18784a"/>
<line x1="415.71" y1="56.66" x2="415.71" y2="72.96" stroke="#6a9280" stroke-width="0.9"/>
<rect x="414.76" y="59.17" width="1.9" height="6.47" fill="#a83434"/>
<line x1="418.57" y1="71.69" x2="418.57" y2="79.63" stroke="#6a9280" stroke-width="0.9"/>
<rect x="417.62" y="74.96" width="1.9" height="0.89" fill="#a83434"/>
<line x1="421.42" y1="72.32" x2="421.42" y2="83.45" stroke="#6a9280" stroke-width="0.9"/>
<rect x="420.47" y="74.75" width="1.9" height="5.84" fill="#a83434"/>
<line x1="424.28" y1="84.40" x2="424.28" y2="105.44" stroke="#6a9280" stroke-width="0.9"/>
<rect x="423.33" y="84.89" width="1.9" height="14.68" fill="#a83434"/>
<line x1="427.14" y1="98.62" x2="427.14" y2="105.24" stroke="#6a9280" stroke-width="0.9"/>
<rect x="426.19" y="100.59" width="1.9" height="0.80" fill="#18784a"/>
<line x1="429.99" y1="89.52" x2="429.99" y2="101.45" stroke="#6a9280" stroke-width="0.9"/>
<rect x="429.04" y="96.25" width="1.9" height="1.99" fill="#18784a"/>
<line x1="432.85" y1="94.66" x2="432.85" y2="106.80" stroke="#6a9280" stroke-width="0.9"/>
<rect x="431.90" y="102.09" width="1.9" height="2.23" fill="#a83434"/>
<line x1="435.71" y1="99.98" x2="435.71" y2="110.56" stroke="#6a9280" stroke-width="0.9"/>
<rect x="434.76" y="102.90" width="1.9" height="2.25" fill="#18784a"/>
<line x1="438.56" y1="110.24" x2="438.56" y2="130.93" stroke="#6a9280" stroke-width="0.9"/>
<rect x="437.61" y="110.67" width="1.9" height="9.13" fill="#a83434"/>
<line x1="441.42" y1="126.10" x2="441.42" y2="140.41" stroke="#6a9280" stroke-width="0.9"/>
<rect x="440.47" y="126.88" width="1.9" height="2.51" fill="#18784a"/>
<line x1="444.28" y1="121.91" x2="444.28" y2="132.46" stroke="#6a9280" stroke-width="0.9"/>
<rect x="443.33" y="125.87" width="1.9" height="4.25" fill="#a83434"/>
<line x1="447.14" y1="113.71" x2="447.14" y2="126.80" stroke="#6a9280" stroke-width="0.9"/>
<rect x="446.19" y="116.86" width="1.9" height="9.33" fill="#18784a"/>
<line x1="449.99" y1="116.45" x2="449.99" y2="145.29" stroke="#6a9280" stroke-width="0.9"/>
<rect x="449.04" y="118.36" width="1.9" height="26.27" fill="#a83434"/>
<line x1="452.85" y1="132.98" x2="452.85" y2="143.99" stroke="#6a9280" stroke-width="0.9"/>
<rect x="451.90" y="133.47" width="1.9" height="6.18" fill="#a83434"/>
<line x1="455.71" y1="155.73" x2="455.71" y2="170.29" stroke="#6a9280" stroke-width="0.9"/>
<rect x="454.76" y="156.94" width="1.9" height="3.93" fill="#a83434"/>
<line x1="458.56" y1="156.59" x2="458.56" y2="169.11" stroke="#6a9280" stroke-width="0.9"/>
<rect x="457.61" y="157.43" width="1.9" height="11.68" fill="#18784a"/>
<line x1="461.42" y1="148.18" x2="461.42" y2="161.85" stroke="#6a9280" stroke-width="0.9"/>
<rect x="460.47" y="154.80" width="1.9" height="3.12" fill="#a83434"/>
<line x1="464.28" y1="152.23" x2="464.28" y2="164.43" stroke="#6a9280" stroke-width="0.9"/>
<rect x="463.33" y="154.69" width="1.9" height="5.78" fill="#a83434"/>
<line x1="467.13" y1="133.39" x2="467.13" y2="157.00" stroke="#6a9280" stroke-width="0.9"/>
<rect x="466.18" y="140.00" width="1.9" height="16.88" fill="#18784a"/>
<line x1="469.99" y1="110.15" x2="469.99" y2="137.26" stroke="#6a9280" stroke-width="0.9"/>
<rect x="469.04" y="115.73" width="1.9" height="21.41" fill="#18784a"/>
<line x1="472.85" y1="111.10" x2="472.85" y2="128.01" stroke="#6a9280" stroke-width="0.9"/>
<rect x="471.90" y="112.55" width="1.9" height="15.14" fill="#18784a"/>
<line x1="475.71" y1="108.42" x2="475.71" y2="118.76" stroke="#6a9280" stroke-width="0.9"/>
<rect x="474.76" y="114.54" width="1.9" height="3.12" fill="#a83434"/>
<line x1="478.56" y1="89.92" x2="478.56" y2="129.66" stroke="#6a9280" stroke-width="0.9"/>
<rect x="477.61" y="89.92" width="1.9" height="32.34" fill="#a83434"/>
<line x1="481.42" y1="134.31" x2="481.42" y2="152.03" stroke="#6a9280" stroke-width="0.9"/>
<rect x="480.47" y="139.63" width="1.9" height="5.72" fill="#a83434"/>
<line x1="484.28" y1="130.55" x2="484.28" y2="149.28" stroke="#6a9280" stroke-width="0.9"/>
<rect x="483.33" y="131.51" width="1.9" height="16.04" fill="#18784a"/>
<line x1="487.13" y1="131.88" x2="487.13" y2="144.60" stroke="#6a9280" stroke-width="0.9"/>
<rect x="486.18" y="132.46" width="1.9" height="11.39" fill="#18784a"/>
<line x1="489.99" y1="128.62" x2="489.99" y2="138.36" stroke="#6a9280" stroke-width="0.9"/>
<rect x="489.04" y="130.29" width="1.9" height="5.58" fill="#18784a"/>
<line x1="492.85" y1="128.04" x2="492.85" y2="147.52" stroke="#6a9280" stroke-width="0.9"/>
<rect x="491.90" y="132.09" width="1.9" height="14.36" fill="#a83434"/>
<line x1="495.70" y1="137.89" x2="495.70" y2="147.69" stroke="#6a9280" stroke-width="0.9"/>
<rect x="494.75" y="140.84" width="1.9" height="5.55" fill="#a83434"/>
<line x1="498.56" y1="124.49" x2="498.56" y2="145.00" stroke="#6a9280" stroke-width="0.9"/>
<rect x="497.61" y="132.03" width="1.9" height="12.77" fill="#18784a"/>
<line x1="501.42" y1="119.49" x2="501.42" y2="137.63" stroke="#6a9280" stroke-width="0.9"/>
<rect x="500.47" y="119.75" width="1.9" height="16.39" fill="#18784a"/>
<line x1="504.28" y1="103.94" x2="504.28" y2="123.50" stroke="#6a9280" stroke-width="0.9"/>
<rect x="503.33" y="106.28" width="1.9" height="13.35" fill="#18784a"/>
<line x1="507.13" y1="94.66" x2="507.13" y2="107.84" stroke="#6a9280" stroke-width="0.9"/>
<rect x="506.18" y="97.41" width="1.9" height="9.68" fill="#18784a"/>
<line x1="509.99" y1="95.73" x2="509.99" y2="105.38" stroke="#6a9280" stroke-width="0.9"/>
<rect x="509.04" y="97.78" width="1.9" height="0.92" fill="#18784a"/>
<line x1="512.85" y1="93.33" x2="512.85" y2="101.57" stroke="#6a9280" stroke-width="0.9"/>
<rect x="511.90" y="96.23" width="1.9" height="1.41" fill="#18784a"/>
<line x1="515.70" y1="91.11" x2="515.70" y2="98.30" stroke="#6a9280" stroke-width="0.9"/>
<rect x="514.75" y="93.85" width="1.9" height="2.57" fill="#18784a"/>
<line x1="518.56" y1="85.59" x2="518.56" y2="95.61" stroke="#6a9280" stroke-width="0.9"/>
<rect x="517.61" y="93.50" width="1.9" height="1.16" fill="#a83434"/>
<line x1="521.42" y1="85.09" x2="521.42" y2="97.93" stroke="#6a9280" stroke-width="0.9"/>
<rect x="520.47" y="90.18" width="1.9" height="6.27" fill="#18784a"/>
<line x1="524.27" y1="81.80" x2="524.27" y2="96.51" stroke="#6a9280" stroke-width="0.9"/>
<rect x="523.32" y="87.58" width="1.9" height="2.77" fill="#a83434"/>
<line x1="527.13" y1="96.31" x2="527.13" y2="113.21" stroke="#6a9280" stroke-width="0.9"/>
<rect x="526.18" y="98.19" width="1.9" height="11.47" fill="#a83434"/>
<line x1="529.99" y1="103.59" x2="529.99" y2="119.20" stroke="#6a9280" stroke-width="0.9"/>
<rect x="529.04" y="112.41" width="1.9" height="6.10" fill="#a83434"/>
<line x1="532.85" y1="104.66" x2="532.85" y2="139.02" stroke="#6a9280" stroke-width="0.9"/>
<rect x="531.89" y="105.38" width="1.9" height="14.13" fill="#18784a"/>
<line x1="535.70" y1="99.05" x2="535.70" y2="121.94" stroke="#6a9280" stroke-width="0.9"/>
<rect x="534.75" y="105.53" width="1.9" height="10.87" fill="#a83434"/>
<line x1="538.56" y1="110.50" x2="538.56" y2="126.07" stroke="#6a9280" stroke-width="0.9"/>
<rect x="537.61" y="117.32" width="1.9" height="5.14" fill="#a83434"/>
<line x1="541.42" y1="120.67" x2="541.42" y2="141.83" stroke="#6a9280" stroke-width="0.9"/>
<rect x="540.47" y="123.01" width="1.9" height="0.92" fill="#18784a"/>
<line x1="544.27" y1="116.88" x2="544.27" y2="130.47" stroke="#6a9280" stroke-width="0.9"/>
<rect x="543.32" y="124.20" width="1.9" height="2.57" fill="#18784a"/>
<line x1="547.13" y1="106.74" x2="547.13" y2="125.84" stroke="#6a9280" stroke-width="0.9"/>
<rect x="546.18" y="113.39" width="1.9" height="11.44" fill="#18784a"/>
<line x1="549.99" y1="121.80" x2="549.99" y2="156.30" stroke="#6a9280" stroke-width="0.9"/>
<rect x="549.04" y="123.59" width="1.9" height="23.29" fill="#a83434"/>
<line x1="552.84" y1="151.62" x2="552.84" y2="175.87" stroke="#6a9280" stroke-width="0.9"/>
<rect x="551.89" y="157.49" width="1.9" height="8.58" fill="#a83434"/>
<line x1="555.70" y1="163.44" x2="555.70" y2="183.21" stroke="#6a9280" stroke-width="0.9"/>
<rect x="554.75" y="168.10" width="1.9" height="9.13" fill="#a83434"/>
<line x1="558.56" y1="177.63" x2="558.56" y2="201.97" stroke="#6a9280" stroke-width="0.9"/>
<rect x="557.61" y="180.20" width="1.9" height="18.12" fill="#a83434"/>
<line x1="561.41" y1="185.98" x2="561.41" y2="198.61" stroke="#6a9280" stroke-width="0.9"/>
<rect x="560.46" y="187.31" width="1.9" height="6.47" fill="#18784a"/>
<line x1="564.27" y1="182.31" x2="564.27" y2="197.49" stroke="#6a9280" stroke-width="0.9"/>
<rect x="563.32" y="185.84" width="1.9" height="1.99" fill="#18784a"/>
<line x1="567.13" y1="182.52" x2="567.13" y2="193.09" stroke="#6a9280" stroke-width="0.9"/>
<rect x="566.18" y="185.38" width="1.9" height="4.25" fill="#a83434"/>
<line x1="569.99" y1="172.08" x2="569.99" y2="186.56" stroke="#6a9280" stroke-width="0.9"/>
<rect x="569.04" y="182.26" width="1.9" height="2.95" fill="#18784a"/>
<line x1="572.84" y1="175.75" x2="572.84" y2="190.98" stroke="#6a9280" stroke-width="0.9"/>
<rect x="571.89" y="185.15" width="1.9" height="1.12" fill="#18784a"/>
<line x1="575.70" y1="171.85" x2="575.70" y2="193.70" stroke="#6a9280" stroke-width="0.9"/>
<rect x="574.75" y="173.50" width="1.9" height="19.39" fill="#18784a"/>
<line x1="578.56" y1="164.22" x2="578.56" y2="172.60" stroke="#6a9280" stroke-width="0.9"/>
<rect x="577.61" y="165.21" width="1.9" height="1.58" fill="#a83434"/>
<line x1="581.41" y1="156.65" x2="581.41" y2="168.27" stroke="#6a9280" stroke-width="0.9"/>
<rect x="580.46" y="157.66" width="1.9" height="8.61" fill="#18784a"/>
<line x1="584.27" y1="153.99" x2="584.27" y2="167.14" stroke="#6a9280" stroke-width="0.9"/>
<rect x="583.32" y="158.36" width="1.9" height="5.72" fill="#a83434"/>
<line x1="587.13" y1="154.08" x2="587.13" y2="166.88" stroke="#6a9280" stroke-width="0.9"/>
<rect x="586.18" y="157.37" width="1.9" height="7.11" fill="#18784a"/>
<line x1="589.99" y1="157.49" x2="589.99" y2="175.20" stroke="#6a9280" stroke-width="0.9"/>
<rect x="589.03" y="163.67" width="1.9" height="10.90" fill="#a83434"/>
<line x1="592.84" y1="152.26" x2="592.84" y2="179.40" stroke="#6a9280" stroke-width="0.9"/>
<rect x="591.89" y="162.34" width="1.9" height="14.80" fill="#18784a"/>
<line x1="595.70" y1="157.86" x2="595.70" y2="171.68" stroke="#6a9280" stroke-width="0.9"/>
<rect x="594.75" y="159.28" width="1.9" height="9.77" fill="#18784a"/>
<line x1="598.56" y1="153.50" x2="598.56" y2="165.55" stroke="#6a9280" stroke-width="0.9"/>
<rect x="597.61" y="157.26" width="1.9" height="7.43" fill="#18784a"/>
<line x1="601.41" y1="204.65" x2="601.41" y2="222.69" stroke="#6a9280" stroke-width="0.9"/>
<rect x="600.46" y="210.29" width="1.9" height="6.79" fill="#a83434"/>
<line x1="604.27" y1="226.65" x2="604.27" y2="262.89" stroke="#6a9280" stroke-width="0.9"/>
<rect x="603.32" y="243.96" width="1.9" height="15.92" fill="#a83434"/>
<line x1="607.13" y1="243.21" x2="607.13" y2="299.65" stroke="#6a9280" stroke-width="0.9"/>
<rect x="606.18" y="279.88" width="1.9" height="12.31" fill="#18784a"/>
<line x1="7.16" y1="357.80" x2="7.16" y2="358.45" stroke="#6a6a6a" stroke-width="0.75"/>
<line x1="10.01" y1="357.80" x2="10.01" y2="357.77" stroke="#6a6a6a" stroke-width="0.75"/>
<line x1="12.87" y1="357.80" x2="12.87" y2="357.93" stroke="#6a6a6a" stroke-width="0.75"/>
<line x1="15.73" y1="357.80" x2="15.73" y2="357.54" stroke="#6a6a6a" stroke-width="0.75"/>
<line x1="18.59" y1="357.80" x2="18.59" y2="358.51" stroke="#6a6a6a" stroke-width="0.75"/>
<line x1="21.44" y1="357.80" x2="21.44" y2="355.53" stroke="#6a6a6a" stroke-width="0.75"/>
<line x1="24.30" y1="357.80" x2="24.30" y2="352.15" stroke="#6a6a6a" stroke-width="0.75"/>
<line x1="27.16" y1="357.80" x2="27.16" y2="349.96" stroke="#6a6a6a" stroke-width="0.75"/>
<line x1="30.01" y1="357.80" x2="30.01" y2="349.50" stroke="#6a6a6a" stroke-width="0.75"/>
<line x1="32.87" y1="357.80" x2="32.87" y2="348.71" stroke="#6a6a6a" stroke-width="0.75"/>
<line x1="35.73" y1="357.80" x2="35.73" y2="349.55" stroke="#6a6a6a" stroke-width="0.75"/>
<line x1="38.58" y1="357.80" x2="38.58" y2="352.23" stroke="#6a6a6a" stroke-width="0.75"/>
<line x1="41.44" y1="357.80" x2="41.44" y2="355.43" stroke="#6a6a6a" stroke-width="0.75"/>
<line x1="44.30" y1="357.80" x2="44.30" y2="358.27" stroke="#6a6a6a" stroke-width="0.75"/>
<line x1="47.16" y1="357.80" x2="47.16" y2="360.27" stroke="#6a6a6a" stroke-width="0.75"/>
<line x1="50.01" y1="357.80" x2="50.01" y2="360.54" stroke="#6a6a6a" stroke-width="0.75"/>
<line x1="52.87" y1="357.80" x2="52.87" y2="360.45" stroke="#6a6a6a" stroke-width="0.75"/>
<line x1="55.73" y1="357.80" x2="55.73" y2="361.36" stroke="#6a6a6a" stroke-width="0.75"/>
<line x1="58.58" y1="357.80" x2="58.58" y2="360.15" stroke="#6a6a6a" stroke-width="0.75"/>
<line x1="61.44" y1="357.80" x2="61.44" y2="358.30" stroke="#6a6a6a" stroke-width="0.75"/>
<line x1="64.30" y1="357.80" x2="64.30" y2="356.86" stroke="#6a6a6a" stroke-width="0.75"/>
<line x1="67.15" y1="357.80" x2="67.15" y2="354.92" stroke="#6a6a6a" stroke-width="0.75"/>
<line x1="70.01" y1="357.80" x2="70.01" y2="353.64" stroke="#6a6a6a" stroke-width="0.75"/>
<line x1="72.87" y1="357.80" x2="72.87" y2="353.10" stroke="#6a6a6a" stroke-width="0.75"/>
<line x1="75.73" y1="357.80" x2="75.73" y2="352.08" stroke="#6a6a6a" stroke-width="0.75"/>
<line x1="78.58" y1="357.80" x2="78.58" y2="353.46" stroke="#6a6a6a" stroke-width="0.75"/>
<line x1="81.44" y1="357.80" x2="81.44" y2="354.36" stroke="#6a6a6a" stroke-width="0.75"/>
<line x1="84.30" y1="357.80" x2="84.30" y2="354.52" stroke="#6a6a6a" stroke-width="0.75"/>
<line x1="87.15" y1="357.80" x2="87.15" y2="355.05" stroke="#6a6a6a" stroke-width="0.75"/>
<line x1="90.01" y1="357.80" x2="90.01" y2="357.57" stroke="#6a6a6a" stroke-width="0.75"/>
<line x1="92.87" y1="357.80" x2="92.87" y2="360.91" stroke="#6a6a6a" stroke-width="0.75"/>
<line x1="95.72" y1="357.80" x2="95.72" y2="363.33" stroke="#6a6a6a" stroke-width="0.75"/>
<line x1="98.58" y1="357.80" x2="98.58" y2="365.11" stroke="#6a6a6a" stroke-width="0.75"/>
<line x1="101.44" y1="357.80" x2="101.44" y2="365.83" stroke="#6a6a6a" stroke-width="0.75"/>
<line x1="104.30" y1="357.80" x2="104.30" y2="367.98" stroke="#6a6a6a" stroke-width="0.75"/>
<line x1="107.15" y1="357.80" x2="107.15" y2="369.42" stroke="#6a6a6a" stroke-width="0.75"/>
<line x1="110.01" y1="357.80" x2="110.01" y2="369.72" stroke="#6a6a6a" stroke-width="0.75"/>
<line x1="112.87" y1="357.80" x2="112.87" y2="369.16" stroke="#6a6a6a" stroke-width="0.75"/>
<line x1="115.72" y1="357.80" x2="115.72" y2="368.08" stroke="#6a6a6a" stroke-width="0.75"/>
<line x1="118.58" y1="357.80" x2="118.58" y2="366.05" stroke="#6a6a6a" stroke-width="0.75"/>
<line x1="121.44" y1="357.80" x2="121.44" y2="365.29" stroke="#6a6a6a" stroke-width="0.75"/>
<line x1="124.29" y1="357.80" x2="124.29" y2="364.02" stroke="#6a6a6a" stroke-width="0.75"/>
<line x1="127.15" y1="357.80" x2="127.15" y2="365.65" stroke="#6a6a6a" stroke-width="0.75"/>
<line x1="130.01" y1="357.80" x2="130.01" y2="367.09" stroke="#6a6a6a" stroke-width="0.75"/>
<line x1="132.87" y1="357.80" x2="132.87" y2="367.05" stroke="#6a6a6a" stroke-width="0.75"/>
<line x1="135.72" y1="357.80" x2="135.72" y2="365.69" stroke="#6a6a6a" stroke-width="0.75"/>
<line x1="138.58" y1="357.80" x2="138.58" y2="363.57" stroke="#6a6a6a" stroke-width="0.75"/>
<line x1="141.44" y1="357.80" x2="141.44" y2="361.40" stroke="#6a6a6a" stroke-width="0.75"/>
<line x1="144.29" y1="357.80" x2="144.29" y2="358.49" stroke="#6a6a6a" stroke-width="0.75"/>
<line x1="147.15" y1="357.80" x2="147.15" y2="356.18" stroke="#6a6a6a" stroke-width="0.75"/>
<line x1="150.01" y1="357.80" x2="150.01" y2="353.63" stroke="#6a6a6a" stroke-width="0.75"/>
<line x1="152.86" y1="357.80" x2="152.86" y2="351.84" stroke="#6a6a6a" stroke-width="0.75"/>
<line x1="155.72" y1="357.80" x2="155.72" y2="351.20" stroke="#6a6a6a" stroke-width="0.75"/>
<line x1="158.58" y1="357.80" x2="158.58" y2="351.15" stroke="#6a6a6a" stroke-width="0.75"/>
<line x1="161.44" y1="357.80" x2="161.44" y2="351.66" stroke="#6a6a6a" stroke-width="0.75"/>
<line x1="164.29" y1="357.80" x2="164.29" y2="352.99" stroke="#6a6a6a" stroke-width="0.75"/>
<line x1="167.15" y1="357.80" x2="167.15" y2="353.69" stroke="#6a6a6a" stroke-width="0.75"/>
<line x1="170.01" y1="357.80" x2="170.01" y2="354.39" stroke="#6a6a6a" stroke-width="0.75"/>
<line x1="172.86" y1="357.80" x2="172.86" y2="354.92" stroke="#6a6a6a" stroke-width="0.75"/>
<line x1="175.72" y1="357.80" x2="175.72" y2="355.91" stroke="#6a6a6a" stroke-width="0.75"/>
<line x1="178.58" y1="357.80" x2="178.58" y2="355.82" stroke="#6a6a6a" stroke-width="0.75"/>
<line x1="181.43" y1="357.80" x2="181.43" y2="356.12" stroke="#6a6a6a" stroke-width="0.75"/>
<line x1="184.29" y1="357.80" x2="184.29" y2="358.16" stroke="#6a6a6a" stroke-width="0.75"/>
<line x1="187.15" y1="357.80" x2="187.15" y2="360.15" stroke="#6a6a6a" stroke-width="0.75"/>
<line x1="190.01" y1="357.80" x2="190.01" y2="361.14" stroke="#6a6a6a" stroke-width="0.75"/>
<line x1="192.86" y1="357.80" x2="192.86" y2="362.15" stroke="#6a6a6a" stroke-width="0.75"/>
<line x1="195.72" y1="357.80" x2="195.72" y2="362.65" stroke="#6a6a6a" stroke-width="0.75"/>
<line x1="198.58" y1="357.80" x2="198.58" y2="362.96" stroke="#6a6a6a" stroke-width="0.75"/>
<line x1="201.43" y1="357.80" x2="201.43" y2="362.24" stroke="#6a6a6a" stroke-width="0.75"/>
<line x1="204.29" y1="357.80" x2="204.29" y2="361.35" stroke="#6a6a6a" stroke-width="0.75"/>
<line x1="207.15" y1="357.80" x2="207.15" y2="360.47" stroke="#6a6a6a" stroke-width="0.75"/>
<line x1="210.00" y1="357.80" x2="210.00" y2="361.43" stroke="#6a6a6a" stroke-width="0.75"/>
<line x1="212.86" y1="357.80" x2="212.86" y2="361.85" stroke="#6a6a6a" stroke-width="0.75"/>
<line x1="215.72" y1="357.80" x2="215.72" y2="360.89" stroke="#6a6a6a" stroke-width="0.75"/>
<line x1="218.58" y1="357.80" x2="218.58" y2="357.86" stroke="#6a6a6a" stroke-width="0.75"/>
<line x1="221.43" y1="357.80" x2="221.43" y2="355.95" stroke="#6a6a6a" stroke-width="0.75"/>
<line x1="224.29" y1="357.80" x2="224.29" y2="355.21" stroke="#6a6a6a" stroke-width="0.75"/>
<line x1="227.15" y1="357.80" x2="227.15" y2="354.55" stroke="#6a6a6a" stroke-width="0.75"/>
<line x1="230.00" y1="357.80" x2="230.00" y2="354.50" stroke="#6a6a6a" stroke-width="0.75"/>
<line x1="232.86" y1="357.80" x2="232.86" y2="354.32" stroke="#6a6a6a" stroke-width="0.75"/>
<line x1="235.72" y1="357.80" x2="235.72" y2="354.52" stroke="#6a6a6a" stroke-width="0.75"/>
<line x1="238.57" y1="357.80" x2="238.57" y2="353.67" stroke="#6a6a6a" stroke-width="0.75"/>
<line x1="241.43" y1="357.80" x2="241.43" y2="355.32" stroke="#6a6a6a" stroke-width="0.75"/>
<line x1="244.29" y1="357.80" x2="244.29" y2="356.40" stroke="#6a6a6a" stroke-width="0.75"/>
<line x1="247.15" y1="357.80" x2="247.15" y2="357.51" stroke="#6a6a6a" stroke-width="0.75"/>
<line x1="250.00" y1="357.80" x2="250.00" y2="358.05" stroke="#6a6a6a" stroke-width="0.75"/>
<line x1="252.86" y1="357.80" x2="252.86" y2="359.84" stroke="#6a6a6a" stroke-width="0.75"/>
<line x1="255.72" y1="357.80" x2="255.72" y2="359.95" stroke="#6a6a6a" stroke-width="0.75"/>
<line x1="258.57" y1="357.80" x2="258.57" y2="358.93" stroke="#6a6a6a" stroke-width="0.75"/>
<line x1="261.43" y1="357.80" x2="261.43" y2="358.31" stroke="#6a6a6a" stroke-width="0.75"/>
<line x1="264.29" y1="357.80" x2="264.29" y2="358.09" stroke="#6a6a6a" stroke-width="0.75"/>
<line x1="267.14" y1="357.80" x2="267.14" y2="356.94" stroke="#6a6a6a" stroke-width="0.75"/>
<line x1="270.00" y1="357.80" x2="270.00" y2="355.51" stroke="#6a6a6a" stroke-width="0.75"/>
<line x1="272.86" y1="357.80" x2="272.86" y2="355.25" stroke="#6a6a6a" stroke-width="0.75"/>
<line x1="275.72" y1="357.80" x2="275.72" y2="355.15" stroke="#6a6a6a" stroke-width="0.75"/>
<line x1="278.57" y1="357.80" x2="278.57" y2="354.68" stroke="#6a6a6a" stroke-width="0.75"/>
<line x1="281.43" y1="357.80" x2="281.43" y2="354.26" stroke="#6a6a6a" stroke-width="0.75"/>
<line x1="284.29" y1="357.80" x2="284.29" y2="354.38" stroke="#6a6a6a" stroke-width="0.75"/>
<line x1="287.14" y1="357.80" x2="287.14" y2="356.13" stroke="#6a6a6a" stroke-width="0.75"/>
<line x1="290.00" y1="357.80" x2="290.00" y2="357.68" stroke="#6a6a6a" stroke-width="0.75"/>
<line x1="292.86" y1="357.80" x2="292.86" y2="358.64" stroke="#6a6a6a" stroke-width="0.75"/>
<line x1="295.71" y1="357.80" x2="295.71" y2="358.76" stroke="#6a6a6a" stroke-width="0.75"/>
<line x1="298.57" y1="357.80" x2="298.57" y2="358.83" stroke="#6a6a6a" stroke-width="0.75"/>
<line x1="301.43" y1="357.80" x2="301.43" y2="359.89" stroke="#6a6a6a" stroke-width="0.75"/>
<line x1="304.29" y1="357.80" x2="304.29" y2="361.67" stroke="#6a6a6a" stroke-width="0.75"/>
<line x1="307.14" y1="357.80" x2="307.14" y2="363.48" stroke="#6a6a6a" stroke-width="0.75"/>
<line x1="310.00" y1="357.80" x2="310.00" y2="364.64" stroke="#6a6a6a" stroke-width="0.75"/>
<line x1="312.86" y1="357.80" x2="312.86" y2="364.78" stroke="#6a6a6a" stroke-width="0.75"/>
<line x1="315.71" y1="357.80" x2="315.71" y2="364.77" stroke="#6a6a6a" stroke-width="0.75"/>
<line x1="318.57" y1="357.80" x2="318.57" y2="363.08" stroke="#6a6a6a" stroke-width="0.75"/>
<line x1="321.43" y1="357.80" x2="321.43" y2="361.64" stroke="#6a6a6a" stroke-width="0.75"/>
<line x1="324.28" y1="357.80" x2="324.28" y2="360.99" stroke="#6a6a6a" stroke-width="0.75"/>
<line x1="327.14" y1="357.80" x2="327.14" y2="360.24" stroke="#6a6a6a" stroke-width="0.75"/>
<line x1="330.00" y1="357.80" x2="330.00" y2="359.32" stroke="#6a6a6a" stroke-width="0.75"/>
<line x1="332.86" y1="357.80" x2="332.86" y2="357.82" stroke="#6a6a6a" stroke-width="0.75"/>
<line x1="335.71" y1="357.80" x2="335.71" y2="357.73" stroke="#6a6a6a" stroke-width="0.75"/>
<line x1="338.57" y1="357.80" x2="338.57" y2="356.89" stroke="#6a6a6a" stroke-width="0.75"/>
<line x1="341.43" y1="357.80" x2="341.43" y2="356.36" stroke="#6a6a6a" stroke-width="0.75"/>
<line x1="344.28" y1="357.80" x2="344.28" y2="355.78" stroke="#6a6a6a" stroke-width="0.75"/>
<line x1="347.14" y1="357.80" x2="347.14" y2="355.56" stroke="#6a6a6a" stroke-width="0.75"/>
<line x1="350.00" y1="357.80" x2="350.00" y2="355.18" stroke="#6a6a6a" stroke-width="0.75"/>
<line x1="352.85" y1="357.80" x2="352.85" y2="354.30" stroke="#6a6a6a" stroke-width="0.75"/>
<line x1="355.71" y1="357.80" x2="355.71" y2="353.31" stroke="#6a6a6a" stroke-width="0.75"/>
<line x1="358.57" y1="357.80" x2="358.57" y2="352.85" stroke="#6a6a6a" stroke-width="0.75"/>
<line x1="361.43" y1="357.80" x2="361.43" y2="352.24" stroke="#6a6a6a" stroke-width="0.75"/>
<line x1="364.28" y1="357.80" x2="364.28" y2="351.52" stroke="#6a6a6a" stroke-width="0.75"/>
<line x1="367.14" y1="357.80" x2="367.14" y2="350.58" stroke="#6a6a6a" stroke-width="0.75"/>
<line x1="370.00" y1="357.80" x2="370.00" y2="350.30" stroke="#6a6a6a" stroke-width="0.75"/>
<line x1="372.85" y1="357.80" x2="372.85" y2="350.64" stroke="#6a6a6a" stroke-width="0.75"/>
<line x1="375.71" y1="357.80" x2="375.71" y2="351.50" stroke="#6a6a6a" stroke-width="0.75"/>
<line x1="378.57" y1="357.80" x2="378.57" y2="351.51" stroke="#6a6a6a" stroke-width="0.75"/>
<line x1="381.42" y1="357.80" x2="381.42" y2="351.72" stroke="#6a6a6a" stroke-width="0.75"/>
<line x1="384.28" y1="357.80" x2="384.28" y2="352.73" stroke="#6a6a6a" stroke-width="0.75"/>
<line x1="387.14" y1="357.80" x2="387.14" y2="353.50" stroke="#6a6a6a" stroke-width="0.75"/>
<line x1="390.00" y1="357.80" x2="390.00" y2="354.39" stroke="#6a6a6a" stroke-width="0.75"/>
<line x1="392.85" y1="357.80" x2="392.85" y2="354.51" stroke="#6a6a6a" stroke-width="0.75"/>
<line x1="395.71" y1="357.80" x2="395.71" y2="354.26" stroke="#6a6a6a" stroke-width="0.75"/>
<line x1="398.57" y1="357.80" x2="398.57" y2="355.94" stroke="#6a6a6a" stroke-width="0.75"/>
<line x1="401.42" y1="357.80" x2="401.42" y2="356.97" stroke="#6a6a6a" stroke-width="0.75"/>
<line x1="404.28" y1="357.80" x2="404.28" y2="356.62" stroke="#6a6a6a" stroke-width="0.75"/>
<line x1="407.14" y1="357.80" x2="407.14" y2="356.37" stroke="#6a6a6a" stroke-width="0.75"/>
<line x1="409.99" y1="357.80" x2="409.99" y2="355.70" stroke="#6a6a6a" stroke-width="0.75"/>
<line x1="412.85" y1="357.80" x2="412.85" y2="355.31" stroke="#6a6a6a" stroke-width="0.75"/>
<line x1="415.71" y1="357.80" x2="415.71" y2="356.35" stroke="#6a6a6a" stroke-width="0.75"/>
<line x1="418.57" y1="357.80" x2="418.57" y2="358.25" stroke="#6a6a6a" stroke-width="0.75"/>
<line x1="421.42" y1="357.80" x2="421.42" y2="360.18" stroke="#6a6a6a" stroke-width="0.75"/>
<line x1="424.28" y1="357.80" x2="424.28" y2="363.54" stroke="#6a6a6a" stroke-width="0.75"/>
<line x1="427.14" y1="357.80" x2="427.14" y2="366.03" stroke="#6a6a6a" stroke-width="0.75"/>
<line x1="429.99" y1="357.80" x2="429.99" y2="367.06" stroke="#6a6a6a" stroke-width="0.75"/>
<line x1="432.85" y1="357.80" x2="432.85" y2="368.18" stroke="#6a6a6a" stroke-width="0.75"/>
<line x1="435.71" y1="357.80" x2="435.71" y2="368.26" stroke="#6a6a6a" stroke-width="0.75"/>
<line x1="438.56" y1="357.80" x2="438.56" y2="369.23" stroke="#6a6a6a" stroke-width="0.75"/>
<line x1="441.42" y1="357.80" x2="441.42" y2="369.90" stroke="#6a6a6a" stroke-width="0.75"/>
<line x1="444.28" y1="357.80" x2="444.28" y2="369.98" stroke="#6a6a6a" stroke-width="0.75"/>
<line x1="447.14" y1="357.80" x2="447.14" y2="368.08" stroke="#6a6a6a" stroke-width="0.75"/>
<line x1="449.99" y1="357.80" x2="449.99" y2="368.88" stroke="#6a6a6a" stroke-width="0.75"/>
<line x1="452.85" y1="357.80" x2="452.85" y2="368.40" stroke="#6a6a6a" stroke-width="0.75"/>
<line x1="455.71" y1="357.80" x2="455.71" y2="369.39" stroke="#6a6a6a" stroke-width="0.75"/>
<line x1="458.56" y1="357.80" x2="458.56" y2="369.04" stroke="#6a6a6a" stroke-width="0.75"/>
<line x1="461.42" y1="357.80" x2="461.42" y2="368.05" stroke="#6a6a6a" stroke-width="0.75"/>
<line x1="464.28" y1="357.80" x2="464.28" y2="366.94" stroke="#6a6a6a" stroke-width="0.75"/>
<line x1="467.13" y1="357.80" x2="467.13" y2="363.65" stroke="#6a6a6a" stroke-width="0.75"/>
<line x1="469.99" y1="357.80" x2="469.99" y2="358.60" stroke="#6a6a6a" stroke-width="0.75"/>
<line x1="472.85" y1="357.80" x2="472.85" y2="354.34" stroke="#6a6a6a" stroke-width="0.75"/>
<line x1="475.71" y1="357.80" x2="475.71" y2="351.91" stroke="#6a6a6a" stroke-width="0.75"/>
<line x1="478.56" y1="357.80" x2="478.56" y2="350.76" stroke="#6a6a6a" stroke-width="0.75"/>
<line x1="481.42" y1="357.80" x2="481.42" y2="352.58" stroke="#6a6a6a" stroke-width="0.75"/>
<line x1="484.28" y1="357.80" x2="484.28" y2="352.89" stroke="#6a6a6a" stroke-width="0.75"/>
<line x1="487.13" y1="357.80" x2="487.13" y2="353.60" stroke="#6a6a6a" stroke-width="0.75"/>
<line x1="489.99" y1="357.80" x2="489.99" y2="354.32" stroke="#6a6a6a" stroke-width="0.75"/>
<line x1="492.85" y1="357.80" x2="492.85" y2="356.57" stroke="#6a6a6a" stroke-width="0.75"/>
<line x1="495.70" y1="357.80" x2="495.70" y2="357.97" stroke="#6a6a6a" stroke-width="0.75"/>
<line x1="498.56" y1="357.80" x2="498.56" y2="357.32" stroke="#6a6a6a" stroke-width="0.75"/>
<line x1="501.42" y1="357.80" x2="501.42" y2="355.49" stroke="#6a6a6a" stroke-width="0.75"/>
<line x1="504.28" y1="357.80" x2="504.28" y2="352.84" stroke="#6a6a6a" stroke-width="0.75"/>
<line x1="507.13" y1="357.80" x2="507.13" y2="350.45" stroke="#6a6a6a" stroke-width="0.75"/>
<line x1="509.99" y1="357.80" x2="509.99" y2="349.09" stroke="#6a6a6a" stroke-width="0.75"/>
<line x1="512.85" y1="357.80" x2="512.85" y2="348.43" stroke="#6a6a6a" stroke-width="0.75"/>
<line x1="515.70" y1="357.80" x2="515.70" y2="348.15" stroke="#6a6a6a" stroke-width="0.75"/>
<line x1="518.56" y1="357.80" x2="518.56" y2="348.74" stroke="#6a6a6a" stroke-width="0.75"/>
<line x1="521.42" y1="357.80" x2="521.42" y2="349.49" stroke="#6a6a6a" stroke-width="0.75"/>
<line x1="524.27" y1="357.80" x2="524.27" y2="350.68" stroke="#6a6a6a" stroke-width="0.75"/>
<line x1="527.13" y1="357.80" x2="527.13" y2="353.86" stroke="#6a6a6a" stroke-width="0.75"/>
<line x1="529.99" y1="357.80" x2="529.99" y2="357.19" stroke="#6a6a6a" stroke-width="0.75"/>
<line x1="532.85" y1="357.80" x2="532.85" y2="358.33" stroke="#6a6a6a" stroke-width="0.75"/>
<line x1="535.70" y1="357.80" x2="535.70" y2="360.15" stroke="#6a6a6a" stroke-width="0.75"/>
<line x1="538.56" y1="357.80" x2="538.56" y2="361.90" stroke="#6a6a6a" stroke-width="0.75"/>
<line x1="541.42" y1="357.80" x2="541.42" y2="362.93" stroke="#6a6a6a" stroke-width="0.75"/>
<line x1="544.27" y1="357.80" x2="544.27" y2="363.46" stroke="#6a6a6a" stroke-width="0.75"/>
<line x1="547.13" y1="357.80" x2="547.13" y2="362.40" stroke="#6a6a6a" stroke-width="0.75"/>
<line x1="549.99" y1="357.80" x2="549.99" y2="364.39" stroke="#6a6a6a" stroke-width="0.75"/>
<line x1="552.84" y1="357.80" x2="552.84" y2="367.25" stroke="#6a6a6a" stroke-width="0.75"/>
<line x1="555.70" y1="357.80" x2="555.70" y2="369.87" stroke="#6a6a6a" stroke-width="0.75"/>
<line x1="558.56" y1="357.80" x2="558.56" y2="372.93" stroke="#6a6a6a" stroke-width="0.75"/>
<line x1="561.41" y1="357.80" x2="561.41" y2="373.15" stroke="#6a6a6a" stroke-width="0.75"/>
<line x1="564.27" y1="357.80" x2="564.27" y2="372.25" stroke="#6a6a6a" stroke-width="0.75"/>
<line x1="567.13" y1="357.80" x2="567.13" y2="370.99" stroke="#6a6a6a" stroke-width="0.75"/>
<line x1="569.99" y1="357.80" x2="569.99" y2="368.39" stroke="#6a6a6a" stroke-width="0.75"/>
<line x1="572.84" y1="357.80" x2="572.84" y2="365.73" stroke="#6a6a6a" stroke-width="0.75"/>
<line x1="575.70" y1="357.80" x2="575.70" y2="361.97" stroke="#6a6a6a" stroke-width="0.75"/>
<line x1="578.56" y1="357.80" x2="578.56" y2="358.22" stroke="#6a6a6a" stroke-width="0.75"/>
<line x1="581.41" y1="357.80" x2="581.41" y2="354.58" stroke="#6a6a6a" stroke-width="0.75"/>
<line x1="584.27" y1="357.80" x2="584.27" y2="352.84" stroke="#6a6a6a" stroke-width="0.75"/>
<line x1="587.13" y1="357.80" x2="587.13" y2="351.18" stroke="#6a6a6a" stroke-width="0.75"/>
<line x1="589.99" y1="357.80" x2="589.99" y2="351.92" stroke="#6a6a6a" stroke-width="0.75"/>
<line x1="592.84" y1="357.80" x2="592.84" y2="351.58" stroke="#6a6a6a" stroke-width="0.75"/>
<line x1="595.70" y1="357.80" x2="595.70" y2="351.34" stroke="#6a6a6a" stroke-width="0.75"/>
<line x1="598.56" y1="357.80" x2="598.56" y2="351.34" stroke="#6a6a6a" stroke-width="0.75"/>
<line x1="601.41" y1="357.80" x2="601.41" y2="357.24" stroke="#6a6a6a" stroke-width="0.75"/>
<line x1="604.27" y1="357.80" x2="604.27" y2="365.30" stroke="#6a6a6a" stroke-width="0.75"/>
<line x1="607.13" y1="357.80" x2="607.13" y2="372.22" stroke="#6a6a6a" stroke-width="0.75"/>
<polyline clip-path="url(#mc)" points="7.16,340.65 10.01,340.96 12.87,341.14 15.73,341.23 18.59,341.38 21.44,341.12 24.30,340.36 27.16,339.21 30.01,337.90 32.87,336.34 35.73,334.73 38.58,333.22 41.44,331.95 44.30,330.74 47.16,330.04 50.01,329.80 52.87,329.93 55.73,330.42 58.58,331.11 61.44,331.75 64.30,332.15 67.15,332.11 70.01,331.70 72.87,331.01 75.73,330.11 78.58,329.25 81.44,328.23 84.30,327.17 87.15,326.19 90.01,325.53 92.87,325.46 95.72,325.89 98.58,326.75 101.44,328.05 104.30,329.72 107.15,331.78 110.01,334.26 112.87,337.03 115.72,339.79 118.58,342.22 121.44,344.51 124.29,346.59 127.15,348.88 130.01,351.17 132.87,353.30 135.72,355.17 138.58,356.74 141.44,358.02 144.29,359.05 147.15,359.73 150.01,360.08 152.86,359.75 155.72,358.84 158.58,357.54 161.44,356.08 164.29,354.68 167.15,353.30 170.01,352.06 172.86,350.95 175.72,350.09 178.58,349.38 181.43,348.82 184.29,348.60 187.15,348.73 190.01,349.00 192.86,349.52 195.72,350.24 198.58,351.16 201.43,352.08 204.29,353.11 207.15,354.19 210.00,355.30 212.86,356.33 215.72,357.22 218.58,357.64 221.43,357.73 224.29,357.58 227.15,357.31 230.00,356.98 232.86,356.56 235.72,355.85 238.57,354.77 241.43,353.77 244.29,353.10 247.15,352.71 250.00,352.46 252.86,352.52 255.72,352.64 258.57,352.73 261.43,352.81 264.29,353.12 267.14,353.24 270.00,353.15 272.86,352.92 275.72,352.61 278.57,351.98 281.43,351.19 284.29,350.42 287.14,349.85 290.00,349.39 292.86,349.12 295.71,349.03 298.57,348.99 301.43,349.13 304.29,349.65 307.14,350.61 310.00,351.91 312.86,353.25 315.71,354.62 318.57,355.86 321.43,357.07 324.28,358.35 327.14,359.55 330.00,360.50 332.86,361.02 335.71,361.30 338.57,361.32 341.43,361.11 344.28,360.85 347.14,360.56 350.00,360.11 352.85,359.44 355.71,358.56 358.57,357.63 361.43,356.48 364.28,355.20 367.14,353.74 370.00,352.17 372.85,350.51 375.71,348.84 378.57,347.17 381.42,345.55 384.28,344.03 387.14,342.63 390.00,341.41 392.85,340.36 395.71,339.38 398.57,338.65 401.42,338.07 404.28,337.57 407.14,337.15 409.99,336.66 412.85,336.14 415.71,335.73 418.57,335.61 421.42,335.88 424.28,336.49 427.14,337.42 429.99,338.71 432.85,340.38 435.71,342.41 438.56,344.94 441.42,347.78 444.28,350.77 447.14,353.62 449.99,356.43 452.85,359.10 455.71,361.94 458.56,364.74 461.42,367.51 464.28,370.04 467.13,372.05 469.99,373.28 472.85,374.02 475.71,374.10 478.56,373.77 481.42,373.15 484.28,372.18 487.13,370.96 489.99,369.50 492.85,368.29 495.70,367.59 498.56,367.16 501.42,366.74 504.28,366.12 507.13,364.97 509.99,363.60 512.85,362.03 515.70,360.33 518.56,358.35 521.42,356.14 524.27,353.93 527.13,352.13 529.99,350.92 532.85,350.15 535.70,349.85 538.56,350.01 541.42,350.57 544.27,351.44 547.13,352.47 549.99,354.00 552.84,355.90 555.70,358.11 558.56,360.93 561.41,363.94 564.27,366.97 567.13,370.03 569.99,372.97 572.84,375.95 575.70,378.39 578.56,380.07 581.41,380.91 584.27,380.89 587.13,380.27 589.99,379.39 592.84,378.13 595.70,376.64 598.56,374.93 601.41,373.91 604.27,374.02 607.13,375.37" fill="none" stroke="#ff9a9a" stroke-width="0.9" stroke-linejoin="round"/>
<polyline clip-path="url(#mc)" points="7.16,341.30 10.01,340.93 12.87,341.26 15.73,340.97 18.59,342.09 21.44,338.85 24.30,334.71 27.16,331.37 30.01,329.60 32.87,327.24 35.73,326.48 38.58,327.65 41.44,329.58 44.30,331.22 47.16,332.51 50.01,332.54 52.87,332.59 55.73,333.98 58.58,333.46 61.44,332.26 64.30,331.21 67.15,329.23 70.01,327.54 72.87,326.31 75.73,324.38 78.58,324.91 81.44,324.79 84.30,323.89 87.15,323.44 90.01,325.30 92.87,328.57 95.72,331.42 98.58,334.06 101.44,336.08 104.30,339.90 107.15,343.41 110.01,346.18 112.87,348.40 115.72,350.07 118.58,350.47 121.44,352.00 124.29,352.80 127.15,356.74 130.01,360.46 132.87,362.55 135.72,363.06 138.58,362.51 141.44,361.62 144.29,359.74 147.15,358.11 150.01,355.90 152.86,353.79 155.72,352.23 158.58,350.89 161.44,349.94 164.29,349.86 167.15,349.19 170.01,348.65 172.86,348.07 175.72,348.20 178.58,347.40 181.43,347.14 184.29,348.96 187.15,351.08 190.01,352.34 192.86,353.87 195.72,355.09 198.58,356.32 201.43,356.52 204.29,356.66 207.15,356.86 210.00,358.92 212.86,360.38 215.72,360.30 218.58,357.70 221.43,355.88 224.29,355.00 227.15,354.06 230.00,353.68 232.86,353.07 235.72,352.57 238.57,350.64 241.43,351.29 244.29,351.70 247.15,352.43 250.00,352.71 252.86,354.56 255.72,354.80 258.57,353.86 261.43,353.32 264.29,353.41 267.14,352.38 270.00,350.85 272.86,350.37 275.72,349.97 278.57,348.86 281.43,347.65 284.29,347.00 287.14,348.18 290.00,349.27 292.86,349.97 295.71,349.99 298.57,350.02 301.43,351.22 304.29,353.52 307.14,356.29 310.00,358.75 312.86,360.23 315.71,361.58 318.57,361.14 321.43,360.92 324.28,361.54 327.14,361.99 330.00,362.02 332.86,361.05 335.71,361.23 338.57,360.41 341.43,359.66 344.28,358.83 347.14,358.32 350.00,357.50 352.85,355.94 355.71,354.06 358.57,352.68 361.43,350.92 364.28,348.92 367.14,346.53 370.00,344.66 372.85,343.35 375.71,342.54 378.57,340.89 381.42,339.47 384.28,338.96 387.14,338.33 390.00,338.00 392.85,337.08 395.71,335.84 398.57,336.79 401.42,337.24 404.28,336.38 407.14,335.72 409.99,334.55 412.85,333.65 415.71,334.27 418.57,336.07 421.42,338.27 424.28,342.22 427.14,345.65 429.99,347.97 432.85,350.76 435.71,352.87 438.56,356.37 441.42,359.88 444.28,362.96 447.14,363.90 449.99,367.51 452.85,369.70 455.71,373.53 458.56,375.99 461.42,377.76 464.28,379.19 467.13,377.89 469.99,374.08 472.85,370.57 475.71,368.21 478.56,366.74 481.42,367.92 484.28,367.27 487.13,366.76 489.99,366.02 492.85,367.06 495.70,367.77 498.56,366.68 501.42,364.43 504.28,361.16 507.13,357.62 509.99,354.89 512.85,352.66 515.70,350.68 518.56,349.29 521.42,347.83 524.27,346.82 527.13,348.19 529.99,350.32 532.85,350.68 535.70,352.21 538.56,354.11 541.42,355.71 544.27,357.10 547.13,357.06 549.99,360.59 552.84,365.35 555.70,370.18 558.56,376.06 561.41,379.29 564.27,381.42 567.13,383.22 569.99,383.56 572.84,383.88 575.70,382.56 578.56,380.49 581.41,377.68 584.27,375.94 587.13,373.65 589.99,373.50 592.84,371.91 595.70,370.18 598.56,368.47 601.41,373.35 604.27,381.53 607.13,389.79" fill="none" stroke="#9a9aff" stroke-width="0.9" stroke-linejoin="round"/>
<polyline clip-path="url(#rc)" points="7.16,416.01 10.01,413.49 12.87,419.06 15.73,414.86 18.59,427.94 21.44,409.62 24.30,405.20 27.16,404.43 30.01,408.92 32.87,405.77 35.73,411.64 38.58,421.81 41.44,426.16 44.30,425.36 47.16,424.17 50.01,419.19 52.87,418.25 55.73,426.12 58.58,419.00 61.44,415.59 64.30,414.41 67.15,410.34 70.01,409.19 72.87,408.51 75.73,405.33 78.58,417.70 81.44,414.99 84.30,411.78 87.15,411.44 90.01,423.78 92.87,431.90 95.72,431.74 98.58,432.36 101.44,430.87 104.30,441.92 107.15,443.51 110.01,442.69 112.87,442.18 115.72,441.11 118.58,435.09 121.44,442.13 124.29,439.36 127.15,454.91 130.01,457.21 132.87,452.27 135.72,446.13 138.58,441.40 141.44,439.39 144.29,433.86 147.15,433.22 150.01,429.02 152.86,427.24 155.72,427.58 158.58,426.67 161.44,426.94 164.29,431.55 167.15,427.57 170.01,427.00 172.86,425.52 175.72,429.85 178.58,423.97 181.43,426.23 184.29,441.13 187.15,444.85 190.01,441.55 192.86,444.68 195.72,444.47 198.58,446.18 201.43,439.92 204.29,439.66 207.15,440.36 210.00,453.65 212.86,452.35 215.72,442.45 218.58,427.66 221.43,429.15 224.29,433.00 227.15,431.44 230.00,433.79 232.86,431.62 235.72,431.10 238.57,422.21 241.43,437.57 244.29,436.57 247.15,438.83 250.00,436.64 252.86,446.48 255.72,438.71 258.57,432.58 261.43,433.58 264.29,436.60 267.14,430.43 270.00,426.70 272.86,431.18 275.72,430.59 278.57,426.16 281.43,424.00 284.29,425.57 287.14,437.17 290.00,437.56 292.86,435.92 295.71,432.12 298.57,431.60 301.43,440.08 304.29,448.23 307.14,453.17 310.00,454.58 312.86,450.97 315.71,452.25 318.57,441.19 321.43,442.24 324.28,447.57 327.14,447.57 330.00,445.32 332.86,438.06 335.71,444.99 338.57,438.45 341.43,437.91 344.28,436.35 347.14,437.57 350.00,434.44 352.85,428.18 355.71,424.17 358.57,424.57 361.43,420.32 364.28,416.76 367.14,412.55 370.00,412.09 372.85,412.04 375.71,412.85 378.57,407.53 381.42,406.33 384.28,411.52 387.14,409.49 390.00,409.25 392.85,405.50 395.71,402.83 398.57,422.18 401.42,419.47 404.28,413.22 407.14,412.31 409.99,409.06 412.85,408.20 415.71,418.93 418.57,427.92 421.42,432.19 424.28,445.16 427.14,446.00 429.99,442.61 432.85,447.61 435.71,446.52 438.56,455.79 441.42,459.02 444.28,460.44 447.14,449.93 449.99,461.54 452.85,458.10 455.71,465.05 458.56,462.71 461.42,462.87 464.28,463.74 467.13,449.82 469.99,437.56 472.85,436.16 475.71,438.76 478.56,441.08 481.42,451.15 484.28,444.15 487.13,444.56 489.99,443.44 492.85,450.47 495.70,450.44 498.56,442.52 501.42,436.64 504.28,430.98 507.13,427.59 509.99,427.81 512.85,427.34 515.70,426.15 518.56,426.73 521.42,424.66 524.27,424.80 527.13,438.52 529.99,443.62 532.85,436.24 535.70,442.36 538.56,445.47 541.42,445.76 544.27,446.41 547.13,439.46 549.99,455.35 552.84,461.63 555.70,464.76 558.56,469.81 561.41,463.28 564.27,462.41 567.13,463.49 569.99,458.87 572.84,459.96 575.70,452.54 578.56,448.50 581.41,443.80 584.27,446.73 587.13,443.07 589.99,450.67 592.84,444.19 595.70,442.64 598.56,441.58 601.41,462.33 604.27,470.55 607.13,473.49" fill="none" stroke="#d096d4" stroke-width="0.9" stroke-linejoin="round"/>
<line x1="629.3" y1="23.5" x2="629.3" y2="478.5" stroke="#8a8a8a" stroke-width="1.2"/>
<line x1="6.5" y1="315" x2="660.5" y2="315" stroke="#a8a8a8" stroke-width="1.3"/>
<line x1="6.5" y1="393.3" x2="660.5" y2="393.3" stroke="#8a8a8a" stroke-width="1.1"/>
<line x1="7" y1="478.8" x2="629.5" y2="478.8" stroke="#b0b0b0" stroke-width="1.6"/>
<line x1="4" y1="491.5" x2="662.5" y2="491.5" stroke="#444" stroke-width="1"/>
<clipPath id="tc2"><rect x="600" y="300" width="80" height="14.4"/></clipPath>
<line x1="629.3" y1="313.00" x2="631.3" y2="313.00" stroke="#8a8a8a" stroke-width="0.8"/>
<g clip-path="url(#tc2)"><text transform="translate(633.00,315.40) scale(0.93,1)" font-size="7.312" fill="#555">170.00</text></g>
<line x1="629.3" y1="284.10" x2="631.3" y2="284.10" stroke="#8a8a8a" stroke-width="0.8"/>
<text transform="translate(633.00,286.50) scale(0.93,1)" font-size="7.312" fill="#555">180.00</text>
<line x1="629.3" y1="255.20" x2="631.3" y2="255.20" stroke="#8a8a8a" stroke-width="0.8"/>
<text transform="translate(633.00,257.60) scale(0.93,1)" font-size="7.312" fill="#555">190.00</text>
<line x1="629.3" y1="226.30" x2="631.3" y2="226.30" stroke="#8a8a8a" stroke-width="0.8"/>
<text transform="translate(633.00,228.70) scale(0.93,1)" font-size="7.312" fill="#555">200.00</text>
<line x1="629.3" y1="197.40" x2="631.3" y2="197.40" stroke="#8a8a8a" stroke-width="0.8"/>
<text transform="translate(633.00,199.80) scale(0.93,1)" font-size="7.312" fill="#555">210.00</text>
<line x1="629.3" y1="168.50" x2="631.3" y2="168.50" stroke="#8a8a8a" stroke-width="0.8"/>
<text transform="translate(633.00,170.90) scale(0.93,1)" font-size="7.312" fill="#555">220.00</text>
<line x1="629.3" y1="139.60" x2="631.3" y2="139.60" stroke="#8a8a8a" stroke-width="0.8"/>
<text transform="translate(633.00,142.00) scale(0.93,1)" font-size="7.312" fill="#555">230.00</text>
<line x1="629.3" y1="110.70" x2="631.3" y2="110.70" stroke="#8a8a8a" stroke-width="0.8"/>
<text transform="translate(633.00,113.10) scale(0.93,1)" font-size="7.312" fill="#555">240.00</text>
<line x1="629.3" y1="81.80" x2="631.3" y2="81.80" stroke="#8a8a8a" stroke-width="0.8"/>
<text transform="translate(633.00,84.20) scale(0.93,1)" font-size="7.312" fill="#555">250.00</text>
<line x1="629.3" y1="52.90" x2="631.3" y2="52.90" stroke="#8a8a8a" stroke-width="0.8"/>
<text transform="translate(633.00,55.30) scale(0.93,1)" font-size="7.312" fill="#555">260.00</text>
<clipPath id="tc"><rect x="600" y="22.7" width="80" height="20"/></clipPath>
<line x1="629.3" y1="24.00" x2="631.3" y2="24.00" stroke="#8a8a8a" stroke-width="0.8"/>
<g clip-path="url(#tc)"><text transform="translate(633.00,26.40) scale(0.93,1)" font-size="7.312" fill="#555">270.00</text></g>
<line x1="629.3" y1="319.40" x2="631.3" y2="319.40" stroke="#8a8a8a" stroke-width="0.8"/>
<text transform="translate(633.00,321.80) scale(0.93,1)" font-size="7.312" fill="#555">10.0000</text>
<line x1="629.3" y1="338.60" x2="631.3" y2="338.60" stroke="#8a8a8a" stroke-width="0.8"/>
<text transform="translate(633.00,341.00) scale(0.93,1)" font-size="7.312" fill="#555">5.0000</text>
<line x1="629.3" y1="357.80" x2="631.3" y2="357.80" stroke="#8a8a8a" stroke-width="0.8"/>
<text transform="translate(633.00,360.20) scale(0.93,1)" font-size="7.312" fill="#555">0.0000</text>
<line x1="629.3" y1="403.80" x2="631.3" y2="403.80" stroke="#8a8a8a" stroke-width="0.8"/>
<text transform="translate(633.00,406.20) scale(0.93,1)" font-size="7.312" fill="#555">80.0000</text>
<line x1="629.3" y1="428.15" x2="631.3" y2="428.15" stroke="#8a8a8a" stroke-width="0.8"/>
<text transform="translate(633.00,430.55) scale(0.93,1)" font-size="7.312" fill="#555">60.0000</text>
<line x1="629.3" y1="452.50" x2="631.3" y2="452.50" stroke="#8a8a8a" stroke-width="0.8"/>
<text transform="translate(633.00,454.90) scale(0.93,1)" font-size="7.312" fill="#555">40.0000</text>
<rect x="629.0" y="129.87" width="28" height="10" fill="#000"/>
<text transform="translate(633.20,137.17) scale(0.93,1)" font-size="7.527" fill="#fff">231.74</text>
<rect x="629.0" y="141.06" width="28" height="10" fill="#3a00ff"/>
<text transform="translate(633.20,148.36) scale(0.93,1)" font-size="7.527" fill="#fff">227.87</text>
<rect x="629.0" y="178.57" width="28" height="10" fill="#ff0000"/>
<text transform="translate(633.20,185.87) scale(0.93,1)" font-size="7.527" fill="#fff">214.89</text>
<rect x="629.0" y="275.18" width="28" height="10" fill="#3f63e0"/>
<text transform="translate(633.20,282.48) scale(0.93,1)" font-size="7.527" fill="#fff">181.46</text>
<rect x="629.0" y="367.40" width="31" height="10" fill="#000"/>
<text transform="translate(633.20,374.70) scale(0.93,1)" font-size="7.527" fill="#fff">-3.7547</text>
<rect x="629.0" y="377.30" width="31" height="10" fill="#ff0000"/>
<text transform="translate(633.20,384.60) scale(0.93,1)" font-size="7.527" fill="#fff">-4.5748</text>
<clipPath id="bc"><rect x="0" y="0" width="680" height="392.7"/></clipPath>
<g clip-path="url(#bc)">
<rect x="629.0" y="386.30" width="31" height="10" fill="#0000ff"/>
<text transform="translate(633.20,393.60) scale(0.93,1)" font-size="7.527" fill="#fff">-8.3296</text>
</g>
<rect x="629.0" y="469.00" width="31" height="9.2" fill="#7c0f86"/>
<text transform="translate(633.20,475.90) scale(0.93,1)" font-size="7.527" fill="#fff">22.7567</text>
<line x1="59.18" y1="478.5" x2="59.18" y2="480.8" stroke="#8a8a8a" stroke-width="0.8"/>
<text transform="translate(59.18,488.00) scale(0.93,1)" font-size="7.312" text-anchor="middle" fill="#555">Jul</text>
<line x1="122.04" y1="478.5" x2="122.04" y2="480.8" stroke="#8a8a8a" stroke-width="0.8"/>
<text transform="translate(122.04,488.00) scale(0.93,1)" font-size="7.312" text-anchor="middle" fill="#555">Aug</text>
<line x1="184.89" y1="478.5" x2="184.89" y2="480.8" stroke="#8a8a8a" stroke-width="0.8"/>
<text transform="translate(184.89,488.00) scale(0.93,1)" font-size="7.312" text-anchor="middle" fill="#555">Sep</text>
<line x1="242.03" y1="478.5" x2="242.03" y2="480.8" stroke="#8a8a8a" stroke-width="0.8"/>
<text transform="translate(242.03,488.00) scale(0.93,1)" font-size="7.312" text-anchor="middle" fill="#555">Oct</text>
<line x1="307.74" y1="478.5" x2="307.74" y2="480.8" stroke="#8a8a8a" stroke-width="0.8"/>
<text transform="translate(307.74,488.00) scale(0.93,1)" font-size="7.312" text-anchor="middle" fill="#555">Nov</text>
<line x1="364.88" y1="478.5" x2="364.88" y2="480.8" stroke="#8a8a8a" stroke-width="0.8"/>
<text transform="translate(364.88,488.00) scale(0.93,1)" font-size="7.312" text-anchor="middle" fill="#555">Dec</text>
<line x1="424.88" y1="478.5" x2="424.88" y2="480.8" stroke="#8a8a8a" stroke-width="0.8"/>
<text transform="translate(424.88,488.00) scale(0.93,1)" font-size="7.312" text-anchor="middle" fill="#555" font-weight="bold">2025</text>
<line x1="482.02" y1="478.5" x2="482.02" y2="480.8" stroke="#8a8a8a" stroke-width="0.8"/>
<text transform="translate(482.02,488.00) scale(0.93,1)" font-size="7.312" text-anchor="middle" fill="#555">Feb</text>
<line x1="536.30" y1="478.5" x2="536.30" y2="480.8" stroke="#8a8a8a" stroke-width="0.8"/>
<text transform="translate(536.30,488.00) scale(0.93,1)" font-size="7.312" text-anchor="middle" fill="#555">Mar</text>
<line x1="596.30" y1="478.5" x2="596.30" y2="480.8" stroke="#8a8a8a" stroke-width="0.8"/>
<text transform="translate(596.30,488.00) scale(0.93,1)" font-size="7.312" text-anchor="middle" fill="#555">Apr</text>
<text transform="translate(8.50,19.70) scale(0.93,1)" font-size="4.484" font-weight="bold" fill="#111" stroke="#111" stroke-width="0.12">Apple Inc, United States, NASDAQ:AAPL, D</text>
<text transform="translate(9.60,29.50) scale(0.93,1)" font-size="4.516" fill="#222" stroke="#222" stroke-width="0.06">MA (21, close, 0)</text>
<text transform="translate(9.60,33.80) scale(0.93,1)" font-size="4.516" fill="#222" stroke="#222" stroke-width="0.06">MA (55, close, 0)</text>
<text transform="translate(9.60,38.10) scale(0.93,1)" font-size="4.516" fill="#222" stroke="#222" stroke-width="0.06">MA (144, close, 0)</text>
<text transform="translate(9.60,321.70) scale(0.93,1)" font-size="4.516" fill="#222" stroke="#222" stroke-width="0.06">MACD (12, 26, close, 9)</text>
<text transform="translate(9.50,399.80) scale(0.93,1)" font-size="4.516" fill="#222" stroke="#222" stroke-width="0.06">RSI (14)</text>
</svg></body></html>
